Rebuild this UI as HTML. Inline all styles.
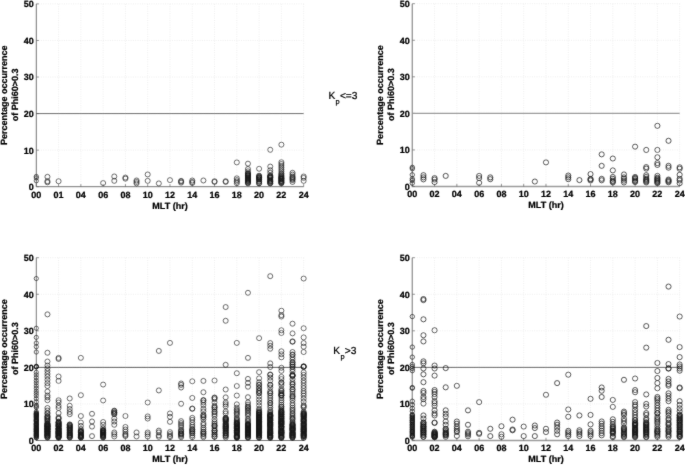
<!DOCTYPE html>
<html><head><meta charset="utf-8"><title>chart</title>
<style>html,body{margin:0;padding:0;background:#fff}body{width:685px;height:465px;overflow:hidden}</style>
</head><body>
<svg width="685" height="465" viewBox="0 0 685 465" style="display:block;font-family:'Liberation Sans',sans-serif;text-rendering:geometricPrecision;will-change:transform">
<defs><filter id="bl" x="0" y="0" width="685" height="465" filterUnits="userSpaceOnUse"><feConvolveMatrix order="3" kernelMatrix="0.015 0.065 0.015 0.065 0.68 0.065 0.015 0.065 0.015" divisor="1" edgeMode="duplicate" preserveAlpha="false"/></filter></defs>
<rect width="685" height="465" fill="#fff"/>
<g filter="url(#bl)">
<path d="M58.58 3.90V186.70M80.86 3.90V186.70M103.14 3.90V186.70M125.42 3.90V186.70M147.70 3.90V186.70M169.98 3.90V186.70M192.26 3.90V186.70M214.54 3.90V186.70M236.82 3.90V186.70M259.10 3.90V186.70M281.38 3.90V186.70M303.66 3.90V186.70M36.30 150.14H303.66M36.30 113.58H303.66M36.30 77.02H303.66M36.30 40.46H303.66M36.30 3.90H303.66" stroke="#e4e4e4" stroke-width="0.6" stroke-dasharray="1 1.3" fill="none"/>
<path d="M36.30 3.90V186.70H303.66" stroke="#505050" stroke-width="0.8" fill="none"/>
<path d="M36.30 186.70v-2.6M58.58 186.70v-2.6M80.86 186.70v-2.6M103.14 186.70v-2.6M125.42 186.70v-2.6M147.70 186.70v-2.6M169.98 186.70v-2.6M192.26 186.70v-2.6M214.54 186.70v-2.6M236.82 186.70v-2.6M259.10 186.70v-2.6M281.38 186.70v-2.6M303.66 186.70v-2.6M36.30 186.70h2.6M36.30 150.14h2.6M36.30 113.58h2.6M36.30 77.02h2.6M36.30 40.46h2.6M36.30 3.90h2.6" stroke="#666" stroke-width="0.7" fill="none"/>
<path d="M36.30 113.58H303.66" stroke="#585858" stroke-width="0.85" fill="none"/>
<text x="36.30" y="197.50" font-size="9.0" font-weight="bold" text-anchor="middle" fill="#000" stroke="#000" stroke-width="0.24">00</text>
<text x="58.58" y="197.50" font-size="9.0" font-weight="bold" text-anchor="middle" fill="#000" stroke="#000" stroke-width="0.24">01</text>
<text x="80.86" y="197.50" font-size="9.0" font-weight="bold" text-anchor="middle" fill="#000" stroke="#000" stroke-width="0.24">04</text>
<text x="103.14" y="197.50" font-size="9.0" font-weight="bold" text-anchor="middle" fill="#000" stroke="#000" stroke-width="0.24">06</text>
<text x="125.42" y="197.50" font-size="9.0" font-weight="bold" text-anchor="middle" fill="#000" stroke="#000" stroke-width="0.24">08</text>
<text x="147.70" y="197.50" font-size="9.0" font-weight="bold" text-anchor="middle" fill="#000" stroke="#000" stroke-width="0.24">10</text>
<text x="169.98" y="197.50" font-size="9.0" font-weight="bold" text-anchor="middle" fill="#000" stroke="#000" stroke-width="0.24">12</text>
<text x="192.26" y="197.50" font-size="9.0" font-weight="bold" text-anchor="middle" fill="#000" stroke="#000" stroke-width="0.24">14</text>
<text x="214.54" y="197.50" font-size="9.0" font-weight="bold" text-anchor="middle" fill="#000" stroke="#000" stroke-width="0.24">16</text>
<text x="236.82" y="197.50" font-size="9.0" font-weight="bold" text-anchor="middle" fill="#000" stroke="#000" stroke-width="0.24">18</text>
<text x="259.10" y="197.50" font-size="9.0" font-weight="bold" text-anchor="middle" fill="#000" stroke="#000" stroke-width="0.24">20</text>
<text x="281.38" y="197.50" font-size="9.0" font-weight="bold" text-anchor="middle" fill="#000" stroke="#000" stroke-width="0.24">22</text>
<text x="303.66" y="197.50" font-size="9.0" font-weight="bold" text-anchor="middle" fill="#000" stroke="#000" stroke-width="0.24">24</text>
<text x="33.70" y="190.15" font-size="9.0" font-weight="bold" text-anchor="end" fill="#000" stroke="#000" stroke-width="0.24">0</text>
<text x="33.70" y="153.59" font-size="9.0" font-weight="bold" text-anchor="end" fill="#000" stroke="#000" stroke-width="0.24">10</text>
<text x="33.70" y="117.03" font-size="9.0" font-weight="bold" text-anchor="end" fill="#000" stroke="#000" stroke-width="0.24">20</text>
<text x="33.70" y="80.47" font-size="9.0" font-weight="bold" text-anchor="end" fill="#000" stroke="#000" stroke-width="0.24">30</text>
<text x="33.70" y="43.91" font-size="9.0" font-weight="bold" text-anchor="end" fill="#000" stroke="#000" stroke-width="0.24">40</text>
<text x="33.70" y="7.35" font-size="9.0" font-weight="bold" text-anchor="end" fill="#000" stroke="#000" stroke-width="0.24">50</text>
<text x="169.98" y="208.50" font-size="9.0" font-weight="bold" text-anchor="middle" fill="#000" stroke="#000" stroke-width="0.24">MLT (hr)</text>
<text transform="translate(7.00 95.30) rotate(-90)" font-size="9.0" font-weight="bold" text-anchor="middle" fill="#000" stroke="#000" stroke-width="0.24">Percentage occurrence</text>
<text transform="translate(17.50 94.80) rotate(-90)" font-size="9.0" font-weight="bold" text-anchor="middle" fill="#000" stroke="#000" stroke-width="0.24">of Phi60&gt;0.3</text>
<g fill="none" stroke="#181818" stroke-width="0.64">
<circle cx="36.30" cy="180.85" r="2.1"/>
<circle cx="36.30" cy="177.93" r="2.1"/>
<circle cx="36.30" cy="176.46" r="2.1"/>
<circle cx="47.44" cy="182.31" r="2.5"/>
<circle cx="47.44" cy="181.22" r="2.5"/>
<circle cx="47.44" cy="176.83" r="2.5"/>
<circle cx="58.58" cy="181.22" r="2.5"/>
<circle cx="103.14" cy="183.04" r="2.5"/>
<circle cx="114.28" cy="180.85" r="2.5"/>
<circle cx="114.28" cy="176.46" r="2.5"/>
<circle cx="125.42" cy="178.66" r="2.5"/>
<circle cx="125.42" cy="177.56" r="2.5"/>
<circle cx="136.56" cy="183.41" r="2.5"/>
<circle cx="136.56" cy="181.95" r="2.5"/>
<circle cx="136.56" cy="180.48" r="2.5"/>
<circle cx="147.70" cy="180.85" r="2.5"/>
<circle cx="147.70" cy="174.45" r="2.5"/>
<circle cx="158.84" cy="183.41" r="2.5"/>
<circle cx="169.98" cy="180.12" r="2.5"/>
<circle cx="181.12" cy="182.68" r="2.5"/>
<circle cx="181.12" cy="181.58" r="2.5"/>
<circle cx="181.12" cy="180.85" r="2.5"/>
<circle cx="192.26" cy="183.04" r="2.5"/>
<circle cx="192.26" cy="181.95" r="2.5"/>
<circle cx="192.26" cy="180.48" r="2.5"/>
<circle cx="203.40" cy="180.48" r="2.5"/>
<circle cx="214.54" cy="181.95" r="2.5"/>
<circle cx="214.54" cy="181.22" r="2.5"/>
<circle cx="225.68" cy="181.95" r="2.5"/>
<circle cx="225.68" cy="181.22" r="2.5"/>
<circle cx="236.82" cy="183.23" r="2.5"/>
<circle cx="236.82" cy="181.58" r="2.5"/>
<circle cx="236.82" cy="180.12" r="2.5"/>
<circle cx="236.82" cy="178.29" r="2.5"/>
<circle cx="236.82" cy="162.39" r="2.5"/>
<circle cx="247.96" cy="163.67" r="2.5"/>
<circle cx="247.96" cy="168.97" r="2.5"/>
<circle cx="247.96" cy="171.34" r="2.5"/>
<circle cx="247.96" cy="173.36" r="2.5"/>
<circle cx="247.96" cy="175.18" r="2.5"/>
<circle cx="247.96" cy="177.01" r="2.5"/>
<circle cx="247.96" cy="179.02" r="2.5"/>
<circle cx="247.96" cy="180.85" r="2.5"/>
<circle cx="247.96" cy="182.68" r="2.5"/>
<circle cx="247.96" cy="183.41" r="2.5"/>
<circle cx="247.96" cy="182.57" r="2.5"/>
<circle cx="247.96" cy="181.73" r="2.5"/>
<circle cx="247.96" cy="181.00" r="2.5"/>
<circle cx="247.96" cy="180.19" r="2.5"/>
<circle cx="247.96" cy="179.61" r="2.5"/>
<circle cx="247.96" cy="178.66" r="2.5"/>
<circle cx="247.96" cy="178.07" r="2.5"/>
<circle cx="247.96" cy="177.16" r="2.5"/>
<circle cx="247.96" cy="176.21" r="2.5"/>
<circle cx="247.96" cy="175.48" r="2.5"/>
<circle cx="247.96" cy="174.89" r="2.5"/>
<circle cx="247.96" cy="174.01" r="2.5"/>
<circle cx="247.96" cy="173.39" r="2.5"/>
<circle cx="259.10" cy="168.79" r="2.5"/>
<circle cx="259.10" cy="175.73" r="2.5"/>
<circle cx="259.10" cy="177.56" r="2.5"/>
<circle cx="259.10" cy="179.39" r="2.5"/>
<circle cx="259.10" cy="181.40" r="2.5"/>
<circle cx="259.10" cy="183.23" r="2.5"/>
<circle cx="259.10" cy="183.41" r="2.5"/>
<circle cx="259.10" cy="181.80" r="2.5"/>
<circle cx="259.10" cy="179.79" r="2.5"/>
<circle cx="259.10" cy="178.99" r="2.5"/>
<circle cx="259.10" cy="178.22" r="2.5"/>
<circle cx="259.10" cy="177.56" r="2.5"/>
<circle cx="259.10" cy="176.72" r="2.5"/>
<circle cx="259.10" cy="176.13" r="2.5"/>
<circle cx="270.24" cy="149.77" r="2.5"/>
<circle cx="270.24" cy="166.59" r="2.5"/>
<circle cx="270.24" cy="170.25" r="2.5"/>
<circle cx="270.24" cy="172.81" r="2.5"/>
<circle cx="270.24" cy="175.73" r="2.5"/>
<circle cx="270.24" cy="177.56" r="2.5"/>
<circle cx="270.24" cy="179.39" r="2.5"/>
<circle cx="270.24" cy="181.40" r="2.5"/>
<circle cx="270.24" cy="183.23" r="2.5"/>
<circle cx="270.24" cy="183.41" r="2.5"/>
<circle cx="270.24" cy="182.53" r="2.5"/>
<circle cx="270.24" cy="181.73" r="2.5"/>
<circle cx="270.24" cy="180.89" r="2.5"/>
<circle cx="270.24" cy="180.23" r="2.5"/>
<circle cx="270.24" cy="178.29" r="2.5"/>
<circle cx="270.24" cy="177.67" r="2.5"/>
<circle cx="270.24" cy="176.90" r="2.5"/>
<circle cx="270.24" cy="176.39" r="2.5"/>
<circle cx="270.24" cy="175.95" r="2.5"/>
<circle cx="281.38" cy="144.66" r="2.5"/>
<circle cx="281.38" cy="162.20" r="2.5"/>
<circle cx="281.38" cy="164.03" r="2.5"/>
<circle cx="281.38" cy="165.86" r="2.5"/>
<circle cx="281.38" cy="167.69" r="2.5"/>
<circle cx="281.38" cy="169.52" r="2.5"/>
<circle cx="281.38" cy="171.34" r="2.5"/>
<circle cx="281.38" cy="173.17" r="2.5"/>
<circle cx="281.38" cy="175.18" r="2.5"/>
<circle cx="281.38" cy="177.01" r="2.5"/>
<circle cx="281.38" cy="179.02" r="2.5"/>
<circle cx="281.38" cy="180.85" r="2.5"/>
<circle cx="281.38" cy="182.68" r="2.5"/>
<circle cx="281.38" cy="183.41" r="2.5"/>
<circle cx="281.38" cy="182.64" r="2.5"/>
<circle cx="281.38" cy="181.98" r="2.5"/>
<circle cx="281.38" cy="181.29" r="2.5"/>
<circle cx="281.38" cy="180.63" r="2.5"/>
<circle cx="281.38" cy="179.61" r="2.5"/>
<circle cx="281.38" cy="178.95" r="2.5"/>
<circle cx="281.38" cy="178.51" r="2.5"/>
<circle cx="281.38" cy="178.00" r="2.5"/>
<circle cx="281.38" cy="177.12" r="2.5"/>
<circle cx="281.38" cy="176.17" r="2.5"/>
<circle cx="281.38" cy="174.20" r="2.5"/>
<circle cx="292.52" cy="172.81" r="2.5"/>
<circle cx="292.52" cy="174.64" r="2.5"/>
<circle cx="292.52" cy="176.46" r="2.5"/>
<circle cx="292.52" cy="178.29" r="2.5"/>
<circle cx="292.52" cy="180.12" r="2.5"/>
<circle cx="292.52" cy="181.95" r="2.5"/>
<circle cx="292.52" cy="179.21" r="2.5"/>
<circle cx="292.52" cy="177.38" r="2.5"/>
<circle cx="303.66" cy="180.85" r="2.5"/>
<circle cx="303.66" cy="177.93" r="2.5"/>
<circle cx="303.66" cy="176.46" r="2.5"/>
</g>
<path d="M434.58 3.70V186.50M456.86 3.70V186.50M479.14 3.70V186.50M501.42 3.70V186.50M523.70 3.70V186.50M545.98 3.70V186.50M568.26 3.70V186.50M590.54 3.70V186.50M612.82 3.70V186.50M635.10 3.70V186.50M657.38 3.70V186.50M679.66 3.70V186.50M412.30 149.94H679.66M412.30 113.38H679.66M412.30 76.82H679.66M412.30 40.26H679.66M412.30 3.70H679.66" stroke="#e4e4e4" stroke-width="0.6" stroke-dasharray="1 1.3" fill="none"/>
<path d="M412.30 3.70V186.50H679.66" stroke="#9c9c9c" stroke-width="1.4" fill="none"/>
<path d="M412.30 186.50v-2.6M434.58 186.50v-2.6M456.86 186.50v-2.6M479.14 186.50v-2.6M501.42 186.50v-2.6M523.70 186.50v-2.6M545.98 186.50v-2.6M568.26 186.50v-2.6M590.54 186.50v-2.6M612.82 186.50v-2.6M635.10 186.50v-2.6M657.38 186.50v-2.6M679.66 186.50v-2.6M412.30 186.50h2.6M412.30 149.94h2.6M412.30 113.38h2.6M412.30 76.82h2.6M412.30 40.26h2.6M412.30 3.70h2.6" stroke="#666" stroke-width="0.7" fill="none"/>
<path d="M412.30 113.38H679.66" stroke="#9c9c9c" stroke-width="1.35" fill="none"/>
<text x="412.30" y="197.30" font-size="9.0" font-weight="bold" text-anchor="middle" fill="#000" stroke="#000" stroke-width="0.24">00</text>
<text x="434.58" y="197.30" font-size="9.0" font-weight="bold" text-anchor="middle" fill="#000" stroke="#000" stroke-width="0.24">02</text>
<text x="456.86" y="197.30" font-size="9.0" font-weight="bold" text-anchor="middle" fill="#000" stroke="#000" stroke-width="0.24">04</text>
<text x="479.14" y="197.30" font-size="9.0" font-weight="bold" text-anchor="middle" fill="#000" stroke="#000" stroke-width="0.24">06</text>
<text x="501.42" y="197.30" font-size="9.0" font-weight="bold" text-anchor="middle" fill="#000" stroke="#000" stroke-width="0.24">08</text>
<text x="523.70" y="197.30" font-size="9.0" font-weight="bold" text-anchor="middle" fill="#000" stroke="#000" stroke-width="0.24">10</text>
<text x="545.98" y="197.30" font-size="9.0" font-weight="bold" text-anchor="middle" fill="#000" stroke="#000" stroke-width="0.24">12</text>
<text x="568.26" y="197.30" font-size="9.0" font-weight="bold" text-anchor="middle" fill="#000" stroke="#000" stroke-width="0.24">14</text>
<text x="590.54" y="197.30" font-size="9.0" font-weight="bold" text-anchor="middle" fill="#000" stroke="#000" stroke-width="0.24">16</text>
<text x="612.82" y="197.30" font-size="9.0" font-weight="bold" text-anchor="middle" fill="#000" stroke="#000" stroke-width="0.24">18</text>
<text x="635.10" y="197.30" font-size="9.0" font-weight="bold" text-anchor="middle" fill="#000" stroke="#000" stroke-width="0.24">20</text>
<text x="657.38" y="197.30" font-size="9.0" font-weight="bold" text-anchor="middle" fill="#000" stroke="#000" stroke-width="0.24">22</text>
<text x="679.66" y="197.30" font-size="9.0" font-weight="bold" text-anchor="middle" fill="#000" stroke="#000" stroke-width="0.24">24</text>
<text x="409.70" y="189.95" font-size="9.0" font-weight="bold" text-anchor="end" fill="#000" stroke="#000" stroke-width="0.24">0</text>
<text x="409.70" y="153.39" font-size="9.0" font-weight="bold" text-anchor="end" fill="#000" stroke="#000" stroke-width="0.24">10</text>
<text x="409.70" y="116.83" font-size="9.0" font-weight="bold" text-anchor="end" fill="#000" stroke="#000" stroke-width="0.24">20</text>
<text x="409.70" y="80.27" font-size="9.0" font-weight="bold" text-anchor="end" fill="#000" stroke="#000" stroke-width="0.24">30</text>
<text x="409.70" y="43.71" font-size="9.0" font-weight="bold" text-anchor="end" fill="#000" stroke="#000" stroke-width="0.24">40</text>
<text x="409.70" y="7.15" font-size="9.0" font-weight="bold" text-anchor="end" fill="#000" stroke="#000" stroke-width="0.24">50</text>
<text x="545.98" y="208.30" font-size="9.0" font-weight="bold" text-anchor="middle" fill="#000" stroke="#000" stroke-width="0.24">MLT (hr)</text>
<text transform="translate(383.00 95.10) rotate(-90)" font-size="9.0" font-weight="bold" text-anchor="middle" fill="#000" stroke="#000" stroke-width="0.24">Percentage occurrence</text>
<text transform="translate(393.50 94.60) rotate(-90)" font-size="9.0" font-weight="bold" text-anchor="middle" fill="#000" stroke="#000" stroke-width="0.24">of Phi60&gt;0.3</text>
<g fill="none" stroke="#181818" stroke-width="0.72">
<circle cx="412.30" cy="183.21" r="2.15"/>
<circle cx="412.30" cy="180.47" r="2.15"/>
<circle cx="412.30" cy="178.82" r="2.15"/>
<circle cx="412.30" cy="174.80" r="2.15"/>
<circle cx="412.30" cy="168.77" r="2.15"/>
<circle cx="412.30" cy="167.31" r="2.15"/>
<circle cx="423.44" cy="179.37" r="2.55"/>
<circle cx="423.44" cy="177.36" r="2.55"/>
<circle cx="423.44" cy="175.17" r="2.55"/>
<circle cx="434.58" cy="182.11" r="2.55"/>
<circle cx="434.58" cy="179.55" r="2.55"/>
<circle cx="434.58" cy="178.09" r="2.55"/>
<circle cx="445.72" cy="175.90" r="2.55"/>
<circle cx="479.14" cy="182.84" r="2.55"/>
<circle cx="479.14" cy="178.09" r="2.55"/>
<circle cx="479.14" cy="175.90" r="2.55"/>
<circle cx="490.28" cy="179.19" r="2.55"/>
<circle cx="490.28" cy="177.36" r="2.55"/>
<circle cx="534.84" cy="181.56" r="2.55"/>
<circle cx="545.98" cy="162.37" r="2.55"/>
<circle cx="568.26" cy="179.19" r="2.55"/>
<circle cx="568.26" cy="177.36" r="2.55"/>
<circle cx="568.26" cy="175.53" r="2.55"/>
<circle cx="579.40" cy="180.10" r="2.55"/>
<circle cx="590.54" cy="180.47" r="2.55"/>
<circle cx="590.54" cy="178.82" r="2.55"/>
<circle cx="590.54" cy="174.07" r="2.55"/>
<circle cx="590.54" cy="179.55" r="2.55"/>
<circle cx="601.68" cy="180.28" r="2.55"/>
<circle cx="601.68" cy="178.82" r="2.55"/>
<circle cx="601.68" cy="165.84" r="2.55"/>
<circle cx="601.68" cy="154.33" r="2.55"/>
<circle cx="612.82" cy="182.48" r="2.55"/>
<circle cx="612.82" cy="180.65" r="2.55"/>
<circle cx="612.82" cy="178.82" r="2.55"/>
<circle cx="612.82" cy="176.99" r="2.55"/>
<circle cx="612.82" cy="170.41" r="2.55"/>
<circle cx="612.82" cy="158.53" r="2.55"/>
<circle cx="612.82" cy="181.56" r="2.55"/>
<circle cx="623.96" cy="182.48" r="2.55"/>
<circle cx="623.96" cy="180.65" r="2.55"/>
<circle cx="623.96" cy="178.82" r="2.55"/>
<circle cx="623.96" cy="174.44" r="2.55"/>
<circle cx="623.96" cy="177.36" r="2.55"/>
<circle cx="635.10" cy="182.11" r="2.55"/>
<circle cx="635.10" cy="180.28" r="2.55"/>
<circle cx="635.10" cy="178.82" r="2.55"/>
<circle cx="635.10" cy="176.99" r="2.55"/>
<circle cx="635.10" cy="146.65" r="2.55"/>
<circle cx="635.10" cy="181.20" r="2.55"/>
<circle cx="635.10" cy="177.91" r="2.55"/>
<circle cx="646.24" cy="182.48" r="2.55"/>
<circle cx="646.24" cy="180.65" r="2.55"/>
<circle cx="646.24" cy="178.82" r="2.55"/>
<circle cx="646.24" cy="176.99" r="2.55"/>
<circle cx="646.24" cy="175.17" r="2.55"/>
<circle cx="646.24" cy="168.59" r="2.55"/>
<circle cx="646.24" cy="167.12" r="2.55"/>
<circle cx="646.24" cy="149.94" r="2.55"/>
<circle cx="646.24" cy="181.56" r="2.55"/>
<circle cx="646.24" cy="179.74" r="2.55"/>
<circle cx="657.38" cy="125.81" r="2.55"/>
<circle cx="657.38" cy="149.94" r="2.55"/>
<circle cx="657.38" cy="157.25" r="2.55"/>
<circle cx="657.38" cy="163.10" r="2.55"/>
<circle cx="657.38" cy="164.93" r="2.55"/>
<circle cx="657.38" cy="175.90" r="2.55"/>
<circle cx="657.38" cy="177.73" r="2.55"/>
<circle cx="657.38" cy="179.55" r="2.55"/>
<circle cx="657.38" cy="181.38" r="2.55"/>
<circle cx="657.38" cy="183.21" r="2.55"/>
<circle cx="657.38" cy="182.30" r="2.55"/>
<circle cx="657.38" cy="180.47" r="2.55"/>
<circle cx="657.38" cy="178.64" r="2.55"/>
<circle cx="668.52" cy="140.80" r="2.55"/>
<circle cx="668.52" cy="165.84" r="2.55"/>
<circle cx="668.52" cy="167.67" r="2.55"/>
<circle cx="668.52" cy="179.55" r="2.55"/>
<circle cx="668.52" cy="181.38" r="2.55"/>
<circle cx="668.52" cy="180.47" r="2.55"/>
<circle cx="668.52" cy="182.30" r="2.55"/>
<circle cx="679.66" cy="183.21" r="2.55"/>
<circle cx="679.66" cy="180.47" r="2.55"/>
<circle cx="679.66" cy="178.82" r="2.55"/>
<circle cx="679.66" cy="174.80" r="2.55"/>
<circle cx="679.66" cy="168.77" r="2.55"/>
<circle cx="679.66" cy="167.31" r="2.55"/>
</g>
<path d="M58.58 257.70V440.50M80.86 257.70V440.50M103.14 257.70V440.50M125.42 257.70V440.50M147.70 257.70V440.50M169.98 257.70V440.50M192.26 257.70V440.50M214.54 257.70V440.50M236.82 257.70V440.50M259.10 257.70V440.50M281.38 257.70V440.50M303.66 257.70V440.50M36.30 403.94H303.66M36.30 367.38H303.66M36.30 330.82H303.66M36.30 294.26H303.66M36.30 257.70H303.66" stroke="#e4e4e4" stroke-width="0.6" stroke-dasharray="1 1.3" fill="none"/>
<path d="M36.30 257.70V440.50H303.66" stroke="#585858" stroke-width="0.8" fill="none"/>
<path d="M36.30 440.50v-2.6M58.58 440.50v-2.6M80.86 440.50v-2.6M103.14 440.50v-2.6M125.42 440.50v-2.6M147.70 440.50v-2.6M169.98 440.50v-2.6M192.26 440.50v-2.6M214.54 440.50v-2.6M236.82 440.50v-2.6M259.10 440.50v-2.6M281.38 440.50v-2.6M303.66 440.50v-2.6M36.30 440.50h2.6M36.30 403.94h2.6M36.30 367.38h2.6M36.30 330.82h2.6M36.30 294.26h2.6M36.30 257.70h2.6" stroke="#666" stroke-width="0.7" fill="none"/>
<path d="M36.30 367.38H303.66" stroke="#444" stroke-width="0.85" fill="none"/>
<text x="36.30" y="451.30" font-size="9.0" font-weight="bold" text-anchor="middle" fill="#000" stroke="#000" stroke-width="0.24">00</text>
<text x="58.58" y="451.30" font-size="9.0" font-weight="bold" text-anchor="middle" fill="#000" stroke="#000" stroke-width="0.24">02</text>
<text x="80.86" y="451.30" font-size="9.0" font-weight="bold" text-anchor="middle" fill="#000" stroke="#000" stroke-width="0.24">04</text>
<text x="103.14" y="451.30" font-size="9.0" font-weight="bold" text-anchor="middle" fill="#000" stroke="#000" stroke-width="0.24">06</text>
<text x="125.42" y="451.30" font-size="9.0" font-weight="bold" text-anchor="middle" fill="#000" stroke="#000" stroke-width="0.24">08</text>
<text x="147.70" y="451.30" font-size="9.0" font-weight="bold" text-anchor="middle" fill="#000" stroke="#000" stroke-width="0.24">10</text>
<text x="169.98" y="451.30" font-size="9.0" font-weight="bold" text-anchor="middle" fill="#000" stroke="#000" stroke-width="0.24">12</text>
<text x="192.26" y="451.30" font-size="9.0" font-weight="bold" text-anchor="middle" fill="#000" stroke="#000" stroke-width="0.24">14</text>
<text x="214.54" y="451.30" font-size="9.0" font-weight="bold" text-anchor="middle" fill="#000" stroke="#000" stroke-width="0.24">16</text>
<text x="236.82" y="451.30" font-size="9.0" font-weight="bold" text-anchor="middle" fill="#000" stroke="#000" stroke-width="0.24">18</text>
<text x="259.10" y="451.30" font-size="9.0" font-weight="bold" text-anchor="middle" fill="#000" stroke="#000" stroke-width="0.24">20</text>
<text x="281.38" y="451.30" font-size="9.0" font-weight="bold" text-anchor="middle" fill="#000" stroke="#000" stroke-width="0.24">22</text>
<text x="303.66" y="451.30" font-size="9.0" font-weight="bold" text-anchor="middle" fill="#000" stroke="#000" stroke-width="0.24">24</text>
<text x="33.70" y="443.95" font-size="9.0" font-weight="bold" text-anchor="end" fill="#000" stroke="#000" stroke-width="0.24">0</text>
<text x="33.70" y="407.39" font-size="9.0" font-weight="bold" text-anchor="end" fill="#000" stroke="#000" stroke-width="0.24">10</text>
<text x="33.70" y="370.83" font-size="9.0" font-weight="bold" text-anchor="end" fill="#000" stroke="#000" stroke-width="0.24">20</text>
<text x="33.70" y="334.27" font-size="9.0" font-weight="bold" text-anchor="end" fill="#000" stroke="#000" stroke-width="0.24">30</text>
<text x="33.70" y="297.71" font-size="9.0" font-weight="bold" text-anchor="end" fill="#000" stroke="#000" stroke-width="0.24">40</text>
<text x="33.70" y="261.15" font-size="9.0" font-weight="bold" text-anchor="end" fill="#000" stroke="#000" stroke-width="0.24">50</text>
<text x="169.98" y="462.30" font-size="9.0" font-weight="bold" text-anchor="middle" fill="#000" stroke="#000" stroke-width="0.24">MLT (hr)</text>
<text transform="translate(7.00 349.10) rotate(-90)" font-size="9.0" font-weight="bold" text-anchor="middle" fill="#000" stroke="#000" stroke-width="0.24">Percentage occurrence</text>
<text transform="translate(17.50 348.60) rotate(-90)" font-size="9.0" font-weight="bold" text-anchor="middle" fill="#000" stroke="#000" stroke-width="0.24">of Phi60&gt;0.3</text>
<g fill="none" stroke="#181818" stroke-width="0.64">
<circle cx="36.30" cy="278.54" r="2.1"/>
<circle cx="36.30" cy="328.26" r="2.1"/>
<circle cx="36.30" cy="337.40" r="2.1"/>
<circle cx="36.30" cy="343.07" r="2.1"/>
<circle cx="36.30" cy="346.72" r="2.1"/>
<circle cx="36.30" cy="352.02" r="2.1"/>
<circle cx="36.30" cy="372.32" r="2.1"/>
<circle cx="36.30" cy="374.87" r="2.1"/>
<circle cx="36.30" cy="377.62" r="2.1"/>
<circle cx="36.30" cy="380.54" r="2.1"/>
<circle cx="36.30" cy="382.92" r="2.1"/>
<circle cx="36.30" cy="385.84" r="2.1"/>
<circle cx="36.30" cy="388.22" r="2.1"/>
<circle cx="36.30" cy="391.14" r="2.1"/>
<circle cx="36.30" cy="393.34" r="2.1"/>
<circle cx="36.30" cy="395.71" r="2.1"/>
<circle cx="36.30" cy="398.64" r="2.1"/>
<circle cx="36.30" cy="401.75" r="2.1"/>
<circle cx="36.30" cy="367.01" r="2.1"/>
<circle cx="36.30" cy="366.61" r="2.1"/>
<circle cx="36.30" cy="366.65" r="2.1"/>
<circle cx="36.30" cy="366.25" r="2.1"/>
<circle cx="36.30" cy="412.71" r="2.1"/>
<circle cx="36.30" cy="411.65" r="2.1"/>
<circle cx="36.30" cy="407.56" r="2.1"/>
<circle cx="36.30" cy="406.39" r="2.1"/>
<circle cx="36.30" cy="405.33" r="2.1"/>
<circle cx="36.30" cy="437.94" r="2.1"/>
<circle cx="36.30" cy="437.58" r="2.1"/>
<circle cx="36.30" cy="436.55" r="2.1"/>
<circle cx="36.30" cy="436.11" r="2.1"/>
<circle cx="36.30" cy="435.86" r="2.1"/>
<circle cx="36.30" cy="435.53" r="2.1"/>
<circle cx="36.30" cy="435.05" r="2.1"/>
<circle cx="36.30" cy="434.76" r="2.1"/>
<circle cx="36.30" cy="434.36" r="2.1"/>
<circle cx="36.30" cy="433.85" r="2.1"/>
<circle cx="36.30" cy="433.63" r="2.1"/>
<circle cx="36.30" cy="433.08" r="2.1"/>
<circle cx="36.30" cy="432.20" r="2.1"/>
<circle cx="36.30" cy="431.91" r="2.1"/>
<circle cx="36.30" cy="431.65" r="2.1"/>
<circle cx="36.30" cy="431.32" r="2.1"/>
<circle cx="36.30" cy="430.85" r="2.1"/>
<circle cx="36.30" cy="430.45" r="2.1"/>
<circle cx="36.30" cy="430.04" r="2.1"/>
<circle cx="36.30" cy="429.61" r="2.1"/>
<circle cx="36.30" cy="429.28" r="2.1"/>
<circle cx="36.30" cy="429.06" r="2.1"/>
<circle cx="36.30" cy="428.69" r="2.1"/>
<circle cx="36.30" cy="428.29" r="2.1"/>
<circle cx="36.30" cy="427.81" r="2.1"/>
<circle cx="36.30" cy="427.30" r="2.1"/>
<circle cx="36.30" cy="426.90" r="2.1"/>
<circle cx="36.30" cy="426.50" r="2.1"/>
<circle cx="36.30" cy="425.73" r="2.1"/>
<circle cx="36.30" cy="425.40" r="2.1"/>
<circle cx="36.30" cy="425.00" r="2.1"/>
<circle cx="36.30" cy="424.60" r="2.1"/>
<circle cx="36.30" cy="424.16" r="2.1"/>
<circle cx="36.30" cy="423.68" r="2.1"/>
<circle cx="36.30" cy="423.46" r="2.1"/>
<circle cx="36.30" cy="422.95" r="2.1"/>
<circle cx="36.30" cy="421.89" r="2.1"/>
<circle cx="36.30" cy="421.45" r="2.1"/>
<circle cx="36.30" cy="420.98" r="2.1"/>
<circle cx="36.30" cy="420.50" r="2.1"/>
<circle cx="36.30" cy="420.32" r="2.1"/>
<circle cx="36.30" cy="419.88" r="2.1"/>
<circle cx="36.30" cy="419.11" r="2.1"/>
<circle cx="36.30" cy="418.89" r="2.1"/>
<circle cx="36.30" cy="417.94" r="2.1"/>
<circle cx="36.30" cy="417.58" r="2.1"/>
<circle cx="36.30" cy="416.74" r="2.1"/>
<circle cx="36.30" cy="416.52" r="2.1"/>
<circle cx="36.30" cy="416.00" r="2.1"/>
<circle cx="36.30" cy="415.64" r="2.1"/>
<circle cx="36.30" cy="415.20" r="2.1"/>
<circle cx="36.30" cy="414.73" r="2.1"/>
<circle cx="36.30" cy="414.40" r="2.1"/>
<circle cx="36.30" cy="414.07" r="2.1"/>
<circle cx="36.30" cy="413.63" r="2.1"/>
<circle cx="36.30" cy="413.41" r="2.1"/>
<circle cx="47.44" cy="314.37" r="2.5"/>
<circle cx="47.44" cy="352.76" r="2.5"/>
<circle cx="47.44" cy="361.53" r="2.5"/>
<circle cx="47.44" cy="365.55" r="2.5"/>
<circle cx="47.44" cy="368.29" r="2.5"/>
<circle cx="47.44" cy="371.04" r="2.5"/>
<circle cx="47.44" cy="373.96" r="2.5"/>
<circle cx="47.44" cy="376.70" r="2.5"/>
<circle cx="47.44" cy="379.81" r="2.5"/>
<circle cx="47.44" cy="383.10" r="2.5"/>
<circle cx="47.44" cy="386.03" r="2.5"/>
<circle cx="47.44" cy="391.51" r="2.5"/>
<circle cx="47.44" cy="395.53" r="2.5"/>
<circle cx="47.44" cy="397.36" r="2.5"/>
<circle cx="47.44" cy="400.28" r="2.5"/>
<circle cx="47.44" cy="407.96" r="2.5"/>
<circle cx="47.44" cy="410.52" r="2.5"/>
<circle cx="47.44" cy="436.84" r="2.5"/>
<circle cx="47.44" cy="436.15" r="2.5"/>
<circle cx="47.44" cy="435.31" r="2.5"/>
<circle cx="47.44" cy="434.69" r="2.5"/>
<circle cx="47.44" cy="434.10" r="2.5"/>
<circle cx="47.44" cy="433.01" r="2.5"/>
<circle cx="47.44" cy="431.80" r="2.5"/>
<circle cx="47.44" cy="431.03" r="2.5"/>
<circle cx="47.44" cy="429.93" r="2.5"/>
<circle cx="47.44" cy="429.17" r="2.5"/>
<circle cx="47.44" cy="428.65" r="2.5"/>
<circle cx="47.44" cy="427.41" r="2.5"/>
<circle cx="47.44" cy="426.79" r="2.5"/>
<circle cx="47.44" cy="426.13" r="2.5"/>
<circle cx="47.44" cy="424.93" r="2.5"/>
<circle cx="47.44" cy="423.83" r="2.5"/>
<circle cx="47.44" cy="422.99" r="2.5"/>
<circle cx="47.44" cy="421.71" r="2.5"/>
<circle cx="47.44" cy="420.72" r="2.5"/>
<circle cx="47.44" cy="419.59" r="2.5"/>
<circle cx="47.44" cy="418.97" r="2.5"/>
<circle cx="47.44" cy="418.02" r="2.5"/>
<circle cx="47.44" cy="417.21" r="2.5"/>
<circle cx="47.44" cy="416.52" r="2.5"/>
<circle cx="47.44" cy="416.00" r="2.5"/>
<circle cx="47.44" cy="413.77" r="2.5"/>
<circle cx="47.44" cy="412.90" r="2.5"/>
<circle cx="47.44" cy="437.58" r="2.5"/>
<circle cx="47.44" cy="437.25" r="2.5"/>
<circle cx="47.44" cy="435.89" r="2.5"/>
<circle cx="47.44" cy="435.45" r="2.5"/>
<circle cx="47.44" cy="434.07" r="2.5"/>
<circle cx="47.44" cy="433.59" r="2.5"/>
<circle cx="47.44" cy="433.04" r="2.5"/>
<circle cx="47.44" cy="432.42" r="2.5"/>
<circle cx="47.44" cy="431.91" r="2.5"/>
<circle cx="47.44" cy="431.62" r="2.5"/>
<circle cx="47.44" cy="431.10" r="2.5"/>
<circle cx="47.44" cy="430.45" r="2.5"/>
<circle cx="47.44" cy="429.71" r="2.5"/>
<circle cx="47.44" cy="429.31" r="2.5"/>
<circle cx="47.44" cy="428.91" r="2.5"/>
<circle cx="47.44" cy="428.33" r="2.5"/>
<circle cx="47.44" cy="427.96" r="2.5"/>
<circle cx="47.44" cy="427.34" r="2.5"/>
<circle cx="47.44" cy="426.68" r="2.5"/>
<circle cx="47.44" cy="426.39" r="2.5"/>
<circle cx="47.44" cy="426.02" r="2.5"/>
<circle cx="47.44" cy="425.73" r="2.5"/>
<circle cx="47.44" cy="425.29" r="2.5"/>
<circle cx="47.44" cy="424.96" r="2.5"/>
<circle cx="47.44" cy="424.27" r="2.5"/>
<circle cx="47.44" cy="423.79" r="2.5"/>
<circle cx="58.58" cy="357.87" r="2.5"/>
<circle cx="58.58" cy="358.97" r="2.5"/>
<circle cx="58.58" cy="376.52" r="2.5"/>
<circle cx="58.58" cy="380.91" r="2.5"/>
<circle cx="58.58" cy="400.28" r="2.5"/>
<circle cx="58.58" cy="402.48" r="2.5"/>
<circle cx="58.58" cy="405.77" r="2.5"/>
<circle cx="58.58" cy="407.96" r="2.5"/>
<circle cx="58.58" cy="413.08" r="2.5"/>
<circle cx="58.58" cy="437.58" r="2.5"/>
<circle cx="58.58" cy="436.81" r="2.5"/>
<circle cx="58.58" cy="436.15" r="2.5"/>
<circle cx="58.58" cy="435.13" r="2.5"/>
<circle cx="58.58" cy="434.18" r="2.5"/>
<circle cx="58.58" cy="433.26" r="2.5"/>
<circle cx="58.58" cy="432.57" r="2.5"/>
<circle cx="58.58" cy="431.80" r="2.5"/>
<circle cx="58.58" cy="430.74" r="2.5"/>
<circle cx="58.58" cy="429.93" r="2.5"/>
<circle cx="58.58" cy="428.98" r="2.5"/>
<circle cx="58.58" cy="428.25" r="2.5"/>
<circle cx="58.58" cy="425.91" r="2.5"/>
<circle cx="58.58" cy="424.71" r="2.5"/>
<circle cx="58.58" cy="422.59" r="2.5"/>
<circle cx="58.58" cy="421.45" r="2.5"/>
<circle cx="58.58" cy="418.93" r="2.5"/>
<circle cx="58.58" cy="418.42" r="2.5"/>
<circle cx="58.58" cy="417.32" r="2.5"/>
<circle cx="58.58" cy="437.58" r="2.5"/>
<circle cx="58.58" cy="437.06" r="2.5"/>
<circle cx="58.58" cy="436.48" r="2.5"/>
<circle cx="58.58" cy="435.97" r="2.5"/>
<circle cx="58.58" cy="435.53" r="2.5"/>
<circle cx="58.58" cy="434.80" r="2.5"/>
<circle cx="58.58" cy="434.36" r="2.5"/>
<circle cx="58.58" cy="433.77" r="2.5"/>
<circle cx="58.58" cy="433.26" r="2.5"/>
<circle cx="58.58" cy="432.93" r="2.5"/>
<circle cx="58.58" cy="432.42" r="2.5"/>
<circle cx="58.58" cy="431.76" r="2.5"/>
<circle cx="58.58" cy="431.40" r="2.5"/>
<circle cx="58.58" cy="431.07" r="2.5"/>
<circle cx="58.58" cy="429.90" r="2.5"/>
<circle cx="58.58" cy="429.61" r="2.5"/>
<circle cx="58.58" cy="428.98" r="2.5"/>
<circle cx="58.58" cy="428.51" r="2.5"/>
<circle cx="58.58" cy="428.11" r="2.5"/>
<circle cx="58.58" cy="426.90" r="2.5"/>
<circle cx="58.58" cy="426.50" r="2.5"/>
<circle cx="58.58" cy="425.95" r="2.5"/>
<circle cx="58.58" cy="425.47" r="2.5"/>
<circle cx="58.58" cy="424.85" r="2.5"/>
<circle cx="58.58" cy="424.12" r="2.5"/>
<circle cx="58.58" cy="423.39" r="2.5"/>
<circle cx="58.58" cy="422.84" r="2.5"/>
<circle cx="58.58" cy="422.37" r="2.5"/>
<circle cx="69.72" cy="398.46" r="2.5"/>
<circle cx="69.72" cy="405.77" r="2.5"/>
<circle cx="69.72" cy="409.06" r="2.5"/>
<circle cx="69.72" cy="411.98" r="2.5"/>
<circle cx="69.72" cy="414.18" r="2.5"/>
<circle cx="69.72" cy="437.58" r="2.5"/>
<circle cx="69.72" cy="437.25" r="2.5"/>
<circle cx="69.72" cy="436.81" r="2.5"/>
<circle cx="69.72" cy="436.33" r="2.5"/>
<circle cx="69.72" cy="435.75" r="2.5"/>
<circle cx="69.72" cy="435.35" r="2.5"/>
<circle cx="69.72" cy="434.98" r="2.5"/>
<circle cx="69.72" cy="434.54" r="2.5"/>
<circle cx="69.72" cy="433.88" r="2.5"/>
<circle cx="69.72" cy="433.26" r="2.5"/>
<circle cx="69.72" cy="432.93" r="2.5"/>
<circle cx="69.72" cy="432.57" r="2.5"/>
<circle cx="69.72" cy="431.43" r="2.5"/>
<circle cx="69.72" cy="430.81" r="2.5"/>
<circle cx="69.72" cy="430.26" r="2.5"/>
<circle cx="69.72" cy="429.93" r="2.5"/>
<circle cx="69.72" cy="429.28" r="2.5"/>
<circle cx="69.72" cy="428.54" r="2.5"/>
<circle cx="69.72" cy="427.89" r="2.5"/>
<circle cx="69.72" cy="427.59" r="2.5"/>
<circle cx="69.72" cy="427.30" r="2.5"/>
<circle cx="69.72" cy="426.53" r="2.5"/>
<circle cx="69.72" cy="425.95" r="2.5"/>
<circle cx="69.72" cy="425.36" r="2.5"/>
<circle cx="69.72" cy="424.78" r="2.5"/>
<circle cx="69.72" cy="424.45" r="2.5"/>
<circle cx="80.86" cy="357.87" r="2.5"/>
<circle cx="80.86" cy="395.17" r="2.5"/>
<circle cx="80.86" cy="416.00" r="2.5"/>
<circle cx="80.86" cy="422.59" r="2.5"/>
<circle cx="80.86" cy="425.88" r="2.5"/>
<circle cx="80.86" cy="428.98" r="2.5"/>
<circle cx="80.86" cy="431.73" r="2.5"/>
<circle cx="80.86" cy="433.92" r="2.5"/>
<circle cx="80.86" cy="436.11" r="2.5"/>
<circle cx="80.86" cy="437.58" r="2.5"/>
<circle cx="80.86" cy="435.02" r="2.5"/>
<circle cx="80.86" cy="437.58" r="2.5"/>
<circle cx="80.86" cy="437.14" r="2.5"/>
<circle cx="80.86" cy="436.55" r="2.5"/>
<circle cx="80.86" cy="436.04" r="2.5"/>
<circle cx="80.86" cy="435.56" r="2.5"/>
<circle cx="80.86" cy="434.91" r="2.5"/>
<circle cx="80.86" cy="434.54" r="2.5"/>
<circle cx="80.86" cy="432.82" r="2.5"/>
<circle cx="80.86" cy="432.27" r="2.5"/>
<circle cx="80.86" cy="431.87" r="2.5"/>
<circle cx="80.86" cy="431.10" r="2.5"/>
<circle cx="80.86" cy="430.59" r="2.5"/>
<circle cx="92.00" cy="413.81" r="2.5"/>
<circle cx="92.00" cy="421.49" r="2.5"/>
<circle cx="92.00" cy="426.61" r="2.5"/>
<circle cx="92.00" cy="436.11" r="2.5"/>
<circle cx="103.14" cy="384.56" r="2.5"/>
<circle cx="103.14" cy="400.47" r="2.5"/>
<circle cx="103.14" cy="422.04" r="2.5"/>
<circle cx="103.14" cy="424.78" r="2.5"/>
<circle cx="103.14" cy="428.07" r="2.5"/>
<circle cx="103.14" cy="430.63" r="2.5"/>
<circle cx="103.14" cy="432.46" r="2.5"/>
<circle cx="103.14" cy="434.65" r="2.5"/>
<circle cx="103.14" cy="436.84" r="2.5"/>
<circle cx="103.14" cy="433.55" r="2.5"/>
<circle cx="103.14" cy="435.75" r="2.5"/>
<circle cx="103.14" cy="437.58" r="2.5"/>
<circle cx="103.14" cy="436.84" r="2.5"/>
<circle cx="103.14" cy="435.93" r="2.5"/>
<circle cx="103.14" cy="435.16" r="2.5"/>
<circle cx="103.14" cy="434.76" r="2.5"/>
<circle cx="103.14" cy="434.03" r="2.5"/>
<circle cx="103.14" cy="433.30" r="2.5"/>
<circle cx="103.14" cy="432.53" r="2.5"/>
<circle cx="103.14" cy="432.02" r="2.5"/>
<circle cx="103.14" cy="431.51" r="2.5"/>
<circle cx="103.14" cy="430.99" r="2.5"/>
<circle cx="103.14" cy="430.56" r="2.5"/>
<circle cx="103.14" cy="429.82" r="2.5"/>
<circle cx="114.28" cy="418.56" r="2.5"/>
<circle cx="114.28" cy="421.49" r="2.5"/>
<circle cx="114.28" cy="424.78" r="2.5"/>
<circle cx="114.28" cy="432.46" r="2.5"/>
<circle cx="114.28" cy="434.28" r="2.5"/>
<circle cx="114.28" cy="436.48" r="2.5"/>
<circle cx="114.28" cy="411.07" r="2.5"/>
<circle cx="114.28" cy="410.67" r="2.5"/>
<circle cx="114.28" cy="412.71" r="2.5"/>
<circle cx="114.28" cy="412.31" r="2.5"/>
<circle cx="114.28" cy="414.18" r="2.5"/>
<circle cx="114.28" cy="413.77" r="2.5"/>
<circle cx="125.42" cy="416.00" r="2.5"/>
<circle cx="125.42" cy="426.97" r="2.5"/>
<circle cx="125.42" cy="429.53" r="2.5"/>
<circle cx="125.42" cy="431.73" r="2.5"/>
<circle cx="125.42" cy="433.92" r="2.5"/>
<circle cx="125.42" cy="436.11" r="2.5"/>
<circle cx="125.42" cy="435.02" r="2.5"/>
<circle cx="136.56" cy="432.46" r="2.5"/>
<circle cx="136.56" cy="436.48" r="2.5"/>
<circle cx="147.70" cy="402.48" r="2.5"/>
<circle cx="147.70" cy="416.37" r="2.5"/>
<circle cx="147.70" cy="418.56" r="2.5"/>
<circle cx="147.70" cy="432.46" r="2.5"/>
<circle cx="147.70" cy="434.28" r="2.5"/>
<circle cx="147.70" cy="436.48" r="2.5"/>
<circle cx="158.84" cy="350.93" r="2.5"/>
<circle cx="158.84" cy="390.41" r="2.5"/>
<circle cx="158.84" cy="430.63" r="2.5"/>
<circle cx="158.84" cy="432.46" r="2.5"/>
<circle cx="158.84" cy="435.38" r="2.5"/>
<circle cx="158.84" cy="436.84" r="2.5"/>
<circle cx="169.98" cy="342.88" r="2.5"/>
<circle cx="169.98" cy="413.45" r="2.5"/>
<circle cx="169.98" cy="416.74" r="2.5"/>
<circle cx="169.98" cy="421.85" r="2.5"/>
<circle cx="169.98" cy="432.09" r="2.5"/>
<circle cx="169.98" cy="434.10" r="2.5"/>
<circle cx="169.98" cy="435.93" r="2.5"/>
<circle cx="169.98" cy="437.21" r="2.5"/>
<circle cx="181.12" cy="383.47" r="2.5"/>
<circle cx="181.12" cy="384.93" r="2.5"/>
<circle cx="181.12" cy="387.49" r="2.5"/>
<circle cx="181.12" cy="403.76" r="2.5"/>
<circle cx="181.12" cy="421.12" r="2.5"/>
<circle cx="181.12" cy="423.13" r="2.5"/>
<circle cx="181.12" cy="424.96" r="2.5"/>
<circle cx="181.12" cy="426.97" r="2.5"/>
<circle cx="181.12" cy="429.53" r="2.5"/>
<circle cx="181.12" cy="435.93" r="2.5"/>
<circle cx="181.12" cy="437.21" r="2.5"/>
<circle cx="181.12" cy="431.36" r="2.5"/>
<circle cx="181.12" cy="430.96" r="2.5"/>
<circle cx="181.12" cy="433.37" r="2.5"/>
<circle cx="181.12" cy="432.97" r="2.5"/>
<circle cx="181.12" cy="434.65" r="2.5"/>
<circle cx="181.12" cy="434.25" r="2.5"/>
<circle cx="192.26" cy="381.27" r="2.5"/>
<circle cx="192.26" cy="397.91" r="2.5"/>
<circle cx="192.26" cy="417.83" r="2.5"/>
<circle cx="192.26" cy="419.84" r="2.5"/>
<circle cx="192.26" cy="422.40" r="2.5"/>
<circle cx="192.26" cy="424.96" r="2.5"/>
<circle cx="192.26" cy="426.97" r="2.5"/>
<circle cx="192.26" cy="435.38" r="2.5"/>
<circle cx="192.26" cy="437.21" r="2.5"/>
<circle cx="192.26" cy="408.88" r="2.5"/>
<circle cx="192.26" cy="408.47" r="2.5"/>
<circle cx="192.26" cy="429.53" r="2.5"/>
<circle cx="192.26" cy="429.13" r="2.5"/>
<circle cx="192.26" cy="431.36" r="2.5"/>
<circle cx="192.26" cy="430.96" r="2.5"/>
<circle cx="192.26" cy="433.37" r="2.5"/>
<circle cx="192.26" cy="432.97" r="2.5"/>
<circle cx="203.40" cy="380.91" r="2.5"/>
<circle cx="203.40" cy="392.24" r="2.5"/>
<circle cx="203.40" cy="402.48" r="2.5"/>
<circle cx="203.40" cy="405.04" r="2.5"/>
<circle cx="203.40" cy="408.88" r="2.5"/>
<circle cx="203.40" cy="411.43" r="2.5"/>
<circle cx="203.40" cy="419.30" r="2.5"/>
<circle cx="203.40" cy="423.13" r="2.5"/>
<circle cx="203.40" cy="424.96" r="2.5"/>
<circle cx="203.40" cy="427.70" r="2.5"/>
<circle cx="203.40" cy="429.53" r="2.5"/>
<circle cx="203.40" cy="435.93" r="2.5"/>
<circle cx="203.40" cy="437.21" r="2.5"/>
<circle cx="203.40" cy="400.47" r="2.5"/>
<circle cx="203.40" cy="400.06" r="2.5"/>
<circle cx="203.40" cy="415.27" r="2.5"/>
<circle cx="203.40" cy="414.87" r="2.5"/>
<circle cx="203.40" cy="417.28" r="2.5"/>
<circle cx="203.40" cy="416.88" r="2.5"/>
<circle cx="203.40" cy="432.09" r="2.5"/>
<circle cx="203.40" cy="431.69" r="2.5"/>
<circle cx="203.40" cy="434.10" r="2.5"/>
<circle cx="203.40" cy="433.70" r="2.5"/>
<circle cx="214.54" cy="380.54" r="2.5"/>
<circle cx="214.54" cy="399.19" r="2.5"/>
<circle cx="214.54" cy="402.48" r="2.5"/>
<circle cx="214.54" cy="405.77" r="2.5"/>
<circle cx="214.54" cy="409.42" r="2.5"/>
<circle cx="214.54" cy="414.18" r="2.5"/>
<circle cx="214.54" cy="416.00" r="2.5"/>
<circle cx="214.54" cy="419.30" r="2.5"/>
<circle cx="214.54" cy="421.85" r="2.5"/>
<circle cx="214.54" cy="423.68" r="2.5"/>
<circle cx="214.54" cy="428.25" r="2.5"/>
<circle cx="214.54" cy="432.82" r="2.5"/>
<circle cx="214.54" cy="434.65" r="2.5"/>
<circle cx="214.54" cy="436.66" r="2.5"/>
<circle cx="214.54" cy="397.91" r="2.5"/>
<circle cx="214.54" cy="397.51" r="2.5"/>
<circle cx="214.54" cy="407.60" r="2.5"/>
<circle cx="214.54" cy="407.19" r="2.5"/>
<circle cx="214.54" cy="412.17" r="2.5"/>
<circle cx="214.54" cy="411.76" r="2.5"/>
<circle cx="214.54" cy="426.24" r="2.5"/>
<circle cx="214.54" cy="425.84" r="2.5"/>
<circle cx="214.54" cy="430.81" r="2.5"/>
<circle cx="214.54" cy="430.41" r="2.5"/>
<circle cx="214.54" cy="436.84" r="2.5"/>
<circle cx="214.54" cy="434.43" r="2.5"/>
<circle cx="214.54" cy="431.07" r="2.5"/>
<circle cx="214.54" cy="425.25" r="2.5"/>
<circle cx="225.68" cy="307.06" r="2.5"/>
<circle cx="225.68" cy="320.77" r="2.5"/>
<circle cx="225.68" cy="364.82" r="2.5"/>
<circle cx="225.68" cy="389.50" r="2.5"/>
<circle cx="225.68" cy="397.36" r="2.5"/>
<circle cx="225.68" cy="402.48" r="2.5"/>
<circle cx="225.68" cy="404.31" r="2.5"/>
<circle cx="225.68" cy="406.32" r="2.5"/>
<circle cx="225.68" cy="411.43" r="2.5"/>
<circle cx="225.68" cy="413.45" r="2.5"/>
<circle cx="225.68" cy="437.58" r="2.5"/>
<circle cx="225.68" cy="436.15" r="2.5"/>
<circle cx="225.68" cy="435.67" r="2.5"/>
<circle cx="225.68" cy="435.09" r="2.5"/>
<circle cx="225.68" cy="433.99" r="2.5"/>
<circle cx="225.68" cy="433.26" r="2.5"/>
<circle cx="225.68" cy="432.86" r="2.5"/>
<circle cx="225.68" cy="432.42" r="2.5"/>
<circle cx="225.68" cy="431.14" r="2.5"/>
<circle cx="225.68" cy="430.74" r="2.5"/>
<circle cx="225.68" cy="430.08" r="2.5"/>
<circle cx="225.68" cy="429.35" r="2.5"/>
<circle cx="225.68" cy="428.87" r="2.5"/>
<circle cx="225.68" cy="428.40" r="2.5"/>
<circle cx="225.68" cy="427.70" r="2.5"/>
<circle cx="225.68" cy="427.41" r="2.5"/>
<circle cx="225.68" cy="426.90" r="2.5"/>
<circle cx="225.68" cy="426.61" r="2.5"/>
<circle cx="225.68" cy="426.13" r="2.5"/>
<circle cx="225.68" cy="425.62" r="2.5"/>
<circle cx="225.68" cy="425.11" r="2.5"/>
<circle cx="225.68" cy="424.45" r="2.5"/>
<circle cx="225.68" cy="424.08" r="2.5"/>
<circle cx="225.68" cy="423.43" r="2.5"/>
<circle cx="225.68" cy="422.07" r="2.5"/>
<circle cx="225.68" cy="421.45" r="2.5"/>
<circle cx="225.68" cy="420.83" r="2.5"/>
<circle cx="225.68" cy="420.21" r="2.5"/>
<circle cx="225.68" cy="419.88" r="2.5"/>
<circle cx="225.68" cy="419.33" r="2.5"/>
<circle cx="225.68" cy="419.08" r="2.5"/>
<circle cx="225.68" cy="418.45" r="2.5"/>
<circle cx="225.68" cy="418.13" r="2.5"/>
<circle cx="225.68" cy="417.69" r="2.5"/>
<circle cx="236.82" cy="342.88" r="2.5"/>
<circle cx="236.82" cy="373.23" r="2.5"/>
<circle cx="236.82" cy="386.03" r="2.5"/>
<circle cx="236.82" cy="395.53" r="2.5"/>
<circle cx="236.82" cy="404.31" r="2.5"/>
<circle cx="236.82" cy="407.60" r="2.5"/>
<circle cx="236.82" cy="422.22" r="2.5"/>
<circle cx="236.82" cy="421.20" r="2.5"/>
<circle cx="236.82" cy="420.25" r="2.5"/>
<circle cx="236.82" cy="419.04" r="2.5"/>
<circle cx="236.82" cy="417.94" r="2.5"/>
<circle cx="236.82" cy="415.13" r="2.5"/>
<circle cx="236.82" cy="413.74" r="2.5"/>
<circle cx="236.82" cy="412.35" r="2.5"/>
<circle cx="236.82" cy="410.78" r="2.5"/>
<circle cx="236.82" cy="409.57" r="2.5"/>
<circle cx="236.82" cy="437.94" r="2.5"/>
<circle cx="236.82" cy="437.65" r="2.5"/>
<circle cx="236.82" cy="437.14" r="2.5"/>
<circle cx="236.82" cy="436.92" r="2.5"/>
<circle cx="236.82" cy="436.70" r="2.5"/>
<circle cx="236.82" cy="436.44" r="2.5"/>
<circle cx="236.82" cy="435.97" r="2.5"/>
<circle cx="236.82" cy="435.64" r="2.5"/>
<circle cx="236.82" cy="435.13" r="2.5"/>
<circle cx="236.82" cy="434.18" r="2.5"/>
<circle cx="236.82" cy="433.74" r="2.5"/>
<circle cx="236.82" cy="432.75" r="2.5"/>
<circle cx="236.82" cy="432.27" r="2.5"/>
<circle cx="236.82" cy="431.98" r="2.5"/>
<circle cx="236.82" cy="431.47" r="2.5"/>
<circle cx="236.82" cy="431.03" r="2.5"/>
<circle cx="236.82" cy="430.67" r="2.5"/>
<circle cx="236.82" cy="430.30" r="2.5"/>
<circle cx="236.82" cy="430.08" r="2.5"/>
<circle cx="236.82" cy="429.17" r="2.5"/>
<circle cx="236.82" cy="428.65" r="2.5"/>
<circle cx="236.82" cy="428.25" r="2.5"/>
<circle cx="236.82" cy="428.00" r="2.5"/>
<circle cx="236.82" cy="427.59" r="2.5"/>
<circle cx="236.82" cy="427.30" r="2.5"/>
<circle cx="236.82" cy="426.83" r="2.5"/>
<circle cx="236.82" cy="426.39" r="2.5"/>
<circle cx="236.82" cy="426.02" r="2.5"/>
<circle cx="236.82" cy="425.66" r="2.5"/>
<circle cx="236.82" cy="424.78" r="2.5"/>
<circle cx="236.82" cy="424.38" r="2.5"/>
<circle cx="236.82" cy="424.08" r="2.5"/>
<circle cx="236.82" cy="423.68" r="2.5"/>
<circle cx="236.82" cy="423.21" r="2.5"/>
<circle cx="236.82" cy="422.77" r="2.5"/>
<circle cx="247.96" cy="292.80" r="2.5"/>
<circle cx="247.96" cy="357.87" r="2.5"/>
<circle cx="247.96" cy="378.90" r="2.5"/>
<circle cx="247.96" cy="382.92" r="2.5"/>
<circle cx="247.96" cy="386.76" r="2.5"/>
<circle cx="247.96" cy="397.18" r="2.5"/>
<circle cx="247.96" cy="402.48" r="2.5"/>
<circle cx="247.96" cy="404.67" r="2.5"/>
<circle cx="247.96" cy="423.32" r="2.5"/>
<circle cx="247.96" cy="421.53" r="2.5"/>
<circle cx="247.96" cy="420.39" r="2.5"/>
<circle cx="247.96" cy="418.78" r="2.5"/>
<circle cx="247.96" cy="415.75" r="2.5"/>
<circle cx="247.96" cy="414.07" r="2.5"/>
<circle cx="247.96" cy="412.75" r="2.5"/>
<circle cx="247.96" cy="410.81" r="2.5"/>
<circle cx="247.96" cy="409.86" r="2.5"/>
<circle cx="247.96" cy="408.33" r="2.5"/>
<circle cx="247.96" cy="407.38" r="2.5"/>
<circle cx="247.96" cy="406.54" r="2.5"/>
<circle cx="247.96" cy="437.94" r="2.5"/>
<circle cx="247.96" cy="437.43" r="2.5"/>
<circle cx="247.96" cy="436.99" r="2.5"/>
<circle cx="247.96" cy="436.48" r="2.5"/>
<circle cx="247.96" cy="435.53" r="2.5"/>
<circle cx="247.96" cy="435.13" r="2.5"/>
<circle cx="247.96" cy="434.83" r="2.5"/>
<circle cx="247.96" cy="434.47" r="2.5"/>
<circle cx="247.96" cy="434.21" r="2.5"/>
<circle cx="247.96" cy="433.77" r="2.5"/>
<circle cx="247.96" cy="433.44" r="2.5"/>
<circle cx="247.96" cy="433.04" r="2.5"/>
<circle cx="247.96" cy="432.79" r="2.5"/>
<circle cx="247.96" cy="432.49" r="2.5"/>
<circle cx="247.96" cy="432.27" r="2.5"/>
<circle cx="247.96" cy="431.84" r="2.5"/>
<circle cx="247.96" cy="431.51" r="2.5"/>
<circle cx="247.96" cy="431.18" r="2.5"/>
<circle cx="247.96" cy="430.74" r="2.5"/>
<circle cx="247.96" cy="430.26" r="2.5"/>
<circle cx="247.96" cy="430.04" r="2.5"/>
<circle cx="247.96" cy="429.75" r="2.5"/>
<circle cx="247.96" cy="429.35" r="2.5"/>
<circle cx="247.96" cy="428.98" r="2.5"/>
<circle cx="247.96" cy="428.73" r="2.5"/>
<circle cx="247.96" cy="428.40" r="2.5"/>
<circle cx="247.96" cy="428.00" r="2.5"/>
<circle cx="247.96" cy="427.56" r="2.5"/>
<circle cx="247.96" cy="427.27" r="2.5"/>
<circle cx="247.96" cy="426.75" r="2.5"/>
<circle cx="247.96" cy="426.46" r="2.5"/>
<circle cx="247.96" cy="426.02" r="2.5"/>
<circle cx="247.96" cy="425.58" r="2.5"/>
<circle cx="247.96" cy="425.25" r="2.5"/>
<circle cx="247.96" cy="424.96" r="2.5"/>
<circle cx="247.96" cy="424.67" r="2.5"/>
<circle cx="247.96" cy="424.38" r="2.5"/>
<circle cx="247.96" cy="423.97" r="2.5"/>
<circle cx="259.10" cy="338.13" r="2.5"/>
<circle cx="259.10" cy="372.13" r="2.5"/>
<circle cx="259.10" cy="378.35" r="2.5"/>
<circle cx="259.10" cy="382.19" r="2.5"/>
<circle cx="259.10" cy="396.45" r="2.5"/>
<circle cx="259.10" cy="399.55" r="2.5"/>
<circle cx="259.10" cy="402.48" r="2.5"/>
<circle cx="259.10" cy="405.40" r="2.5"/>
<circle cx="259.10" cy="385.11" r="2.5"/>
<circle cx="259.10" cy="384.71" r="2.5"/>
<circle cx="259.10" cy="388.22" r="2.5"/>
<circle cx="259.10" cy="387.82" r="2.5"/>
<circle cx="259.10" cy="391.14" r="2.5"/>
<circle cx="259.10" cy="390.74" r="2.5"/>
<circle cx="259.10" cy="393.34" r="2.5"/>
<circle cx="259.10" cy="392.94" r="2.5"/>
<circle cx="259.10" cy="411.62" r="2.5"/>
<circle cx="259.10" cy="410.34" r="2.5"/>
<circle cx="259.10" cy="408.73" r="2.5"/>
<circle cx="259.10" cy="437.94" r="2.5"/>
<circle cx="259.10" cy="437.43" r="2.5"/>
<circle cx="259.10" cy="436.99" r="2.5"/>
<circle cx="259.10" cy="435.97" r="2.5"/>
<circle cx="259.10" cy="435.49" r="2.5"/>
<circle cx="259.10" cy="435.16" r="2.5"/>
<circle cx="259.10" cy="434.94" r="2.5"/>
<circle cx="259.10" cy="434.43" r="2.5"/>
<circle cx="259.10" cy="434.03" r="2.5"/>
<circle cx="259.10" cy="433.66" r="2.5"/>
<circle cx="259.10" cy="433.19" r="2.5"/>
<circle cx="259.10" cy="432.71" r="2.5"/>
<circle cx="259.10" cy="432.49" r="2.5"/>
<circle cx="259.10" cy="432.16" r="2.5"/>
<circle cx="259.10" cy="431.91" r="2.5"/>
<circle cx="259.10" cy="431.58" r="2.5"/>
<circle cx="259.10" cy="431.32" r="2.5"/>
<circle cx="259.10" cy="431.03" r="2.5"/>
<circle cx="259.10" cy="430.78" r="2.5"/>
<circle cx="259.10" cy="430.41" r="2.5"/>
<circle cx="259.10" cy="429.90" r="2.5"/>
<circle cx="259.10" cy="429.42" r="2.5"/>
<circle cx="259.10" cy="429.06" r="2.5"/>
<circle cx="259.10" cy="428.65" r="2.5"/>
<circle cx="259.10" cy="428.40" r="2.5"/>
<circle cx="259.10" cy="427.92" r="2.5"/>
<circle cx="259.10" cy="427.70" r="2.5"/>
<circle cx="259.10" cy="427.30" r="2.5"/>
<circle cx="259.10" cy="427.05" r="2.5"/>
<circle cx="259.10" cy="426.68" r="2.5"/>
<circle cx="259.10" cy="426.50" r="2.5"/>
<circle cx="259.10" cy="426.10" r="2.5"/>
<circle cx="259.10" cy="425.58" r="2.5"/>
<circle cx="259.10" cy="425.33" r="2.5"/>
<circle cx="259.10" cy="424.85" r="2.5"/>
<circle cx="259.10" cy="424.56" r="2.5"/>
<circle cx="259.10" cy="424.05" r="2.5"/>
<circle cx="259.10" cy="423.65" r="2.5"/>
<circle cx="259.10" cy="423.21" r="2.5"/>
<circle cx="259.10" cy="422.88" r="2.5"/>
<circle cx="259.10" cy="422.51" r="2.5"/>
<circle cx="259.10" cy="422.15" r="2.5"/>
<circle cx="259.10" cy="421.85" r="2.5"/>
<circle cx="259.10" cy="421.60" r="2.5"/>
<circle cx="259.10" cy="421.34" r="2.5"/>
<circle cx="259.10" cy="421.16" r="2.5"/>
<circle cx="259.10" cy="420.32" r="2.5"/>
<circle cx="259.10" cy="420.06" r="2.5"/>
<circle cx="259.10" cy="419.70" r="2.5"/>
<circle cx="259.10" cy="419.33" r="2.5"/>
<circle cx="259.10" cy="419.08" r="2.5"/>
<circle cx="259.10" cy="418.56" r="2.5"/>
<circle cx="259.10" cy="418.20" r="2.5"/>
<circle cx="259.10" cy="417.98" r="2.5"/>
<circle cx="259.10" cy="417.72" r="2.5"/>
<circle cx="259.10" cy="417.50" r="2.5"/>
<circle cx="259.10" cy="417.17" r="2.5"/>
<circle cx="259.10" cy="416.88" r="2.5"/>
<circle cx="259.10" cy="416.41" r="2.5"/>
<circle cx="259.10" cy="415.93" r="2.5"/>
<circle cx="259.10" cy="415.42" r="2.5"/>
<circle cx="259.10" cy="414.91" r="2.5"/>
<circle cx="259.10" cy="414.65" r="2.5"/>
<circle cx="259.10" cy="414.40" r="2.5"/>
<circle cx="259.10" cy="413.41" r="2.5"/>
<circle cx="259.10" cy="412.97" r="2.5"/>
<circle cx="259.10" cy="412.57" r="2.5"/>
<circle cx="259.10" cy="412.17" r="2.5"/>
<circle cx="270.24" cy="276.16" r="2.5"/>
<circle cx="270.24" cy="343.07" r="2.5"/>
<circle cx="270.24" cy="345.81" r="2.5"/>
<circle cx="270.24" cy="348.73" r="2.5"/>
<circle cx="270.24" cy="363.36" r="2.5"/>
<circle cx="270.24" cy="367.01" r="2.5"/>
<circle cx="270.24" cy="377.62" r="2.5"/>
<circle cx="270.24" cy="380.54" r="2.5"/>
<circle cx="270.24" cy="387.49" r="2.5"/>
<circle cx="270.24" cy="391.14" r="2.5"/>
<circle cx="270.24" cy="395.71" r="2.5"/>
<circle cx="270.24" cy="397.91" r="2.5"/>
<circle cx="270.24" cy="400.28" r="2.5"/>
<circle cx="270.24" cy="405.40" r="2.5"/>
<circle cx="270.24" cy="407.60" r="2.5"/>
<circle cx="270.24" cy="374.87" r="2.5"/>
<circle cx="270.24" cy="374.47" r="2.5"/>
<circle cx="270.24" cy="385.11" r="2.5"/>
<circle cx="270.24" cy="384.71" r="2.5"/>
<circle cx="270.24" cy="393.34" r="2.5"/>
<circle cx="270.24" cy="392.94" r="2.5"/>
<circle cx="270.24" cy="403.21" r="2.5"/>
<circle cx="270.24" cy="402.81" r="2.5"/>
<circle cx="270.24" cy="414.18" r="2.5"/>
<circle cx="270.24" cy="413.01" r="2.5"/>
<circle cx="270.24" cy="411.95" r="2.5"/>
<circle cx="270.24" cy="410.26" r="2.5"/>
<circle cx="270.24" cy="437.94" r="2.5"/>
<circle cx="270.24" cy="437.54" r="2.5"/>
<circle cx="270.24" cy="437.10" r="2.5"/>
<circle cx="270.24" cy="436.84" r="2.5"/>
<circle cx="270.24" cy="436.44" r="2.5"/>
<circle cx="270.24" cy="436.08" r="2.5"/>
<circle cx="270.24" cy="435.64" r="2.5"/>
<circle cx="270.24" cy="435.38" r="2.5"/>
<circle cx="270.24" cy="435.02" r="2.5"/>
<circle cx="270.24" cy="434.80" r="2.5"/>
<circle cx="270.24" cy="433.92" r="2.5"/>
<circle cx="270.24" cy="433.66" r="2.5"/>
<circle cx="270.24" cy="433.22" r="2.5"/>
<circle cx="270.24" cy="433.04" r="2.5"/>
<circle cx="270.24" cy="432.53" r="2.5"/>
<circle cx="270.24" cy="432.31" r="2.5"/>
<circle cx="270.24" cy="431.98" r="2.5"/>
<circle cx="270.24" cy="431.69" r="2.5"/>
<circle cx="270.24" cy="431.29" r="2.5"/>
<circle cx="270.24" cy="430.78" r="2.5"/>
<circle cx="270.24" cy="430.26" r="2.5"/>
<circle cx="270.24" cy="429.82" r="2.5"/>
<circle cx="270.24" cy="429.35" r="2.5"/>
<circle cx="270.24" cy="428.47" r="2.5"/>
<circle cx="270.24" cy="428.14" r="2.5"/>
<circle cx="270.24" cy="427.27" r="2.5"/>
<circle cx="270.24" cy="426.86" r="2.5"/>
<circle cx="270.24" cy="426.35" r="2.5"/>
<circle cx="270.24" cy="425.91" r="2.5"/>
<circle cx="270.24" cy="425.55" r="2.5"/>
<circle cx="270.24" cy="425.14" r="2.5"/>
<circle cx="270.24" cy="424.85" r="2.5"/>
<circle cx="270.24" cy="424.41" r="2.5"/>
<circle cx="270.24" cy="424.19" r="2.5"/>
<circle cx="270.24" cy="423.79" r="2.5"/>
<circle cx="270.24" cy="423.39" r="2.5"/>
<circle cx="270.24" cy="423.02" r="2.5"/>
<circle cx="270.24" cy="422.73" r="2.5"/>
<circle cx="270.24" cy="422.51" r="2.5"/>
<circle cx="270.24" cy="421.96" r="2.5"/>
<circle cx="270.24" cy="420.98" r="2.5"/>
<circle cx="270.24" cy="420.47" r="2.5"/>
<circle cx="270.24" cy="420.28" r="2.5"/>
<circle cx="270.24" cy="420.03" r="2.5"/>
<circle cx="270.24" cy="419.62" r="2.5"/>
<circle cx="270.24" cy="419.22" r="2.5"/>
<circle cx="270.24" cy="418.71" r="2.5"/>
<circle cx="270.24" cy="418.34" r="2.5"/>
<circle cx="270.24" cy="417.58" r="2.5"/>
<circle cx="270.24" cy="417.07" r="2.5"/>
<circle cx="270.24" cy="416.85" r="2.5"/>
<circle cx="270.24" cy="416.63" r="2.5"/>
<circle cx="270.24" cy="416.11" r="2.5"/>
<circle cx="270.24" cy="415.82" r="2.5"/>
<circle cx="270.24" cy="415.57" r="2.5"/>
<circle cx="270.24" cy="415.35" r="2.5"/>
<circle cx="270.24" cy="415.13" r="2.5"/>
<circle cx="270.24" cy="414.73" r="2.5"/>
<circle cx="281.38" cy="310.71" r="2.5"/>
<circle cx="281.38" cy="315.10" r="2.5"/>
<circle cx="281.38" cy="316.56" r="2.5"/>
<circle cx="281.38" cy="330.27" r="2.5"/>
<circle cx="281.38" cy="333.01" r="2.5"/>
<circle cx="281.38" cy="351.29" r="2.5"/>
<circle cx="281.38" cy="354.22" r="2.5"/>
<circle cx="281.38" cy="357.33" r="2.5"/>
<circle cx="281.38" cy="367.75" r="2.5"/>
<circle cx="281.38" cy="370.85" r="2.5"/>
<circle cx="281.38" cy="376.89" r="2.5"/>
<circle cx="281.38" cy="379.08" r="2.5"/>
<circle cx="281.38" cy="385.11" r="2.5"/>
<circle cx="281.38" cy="388.95" r="2.5"/>
<circle cx="281.38" cy="397.91" r="2.5"/>
<circle cx="281.38" cy="400.28" r="2.5"/>
<circle cx="281.38" cy="402.48" r="2.5"/>
<circle cx="281.38" cy="404.67" r="2.5"/>
<circle cx="281.38" cy="382.92" r="2.5"/>
<circle cx="281.38" cy="382.52" r="2.5"/>
<circle cx="281.38" cy="391.14" r="2.5"/>
<circle cx="281.38" cy="390.74" r="2.5"/>
<circle cx="281.38" cy="393.34" r="2.5"/>
<circle cx="281.38" cy="392.94" r="2.5"/>
<circle cx="281.38" cy="395.71" r="2.5"/>
<circle cx="281.38" cy="395.31" r="2.5"/>
<circle cx="281.38" cy="395.17" r="2.5"/>
<circle cx="281.38" cy="394.76" r="2.5"/>
<circle cx="281.38" cy="406.86" r="2.5"/>
<circle cx="281.38" cy="406.46" r="2.5"/>
<circle cx="281.38" cy="411.25" r="2.5"/>
<circle cx="281.38" cy="410.59" r="2.5"/>
<circle cx="281.38" cy="409.86" r="2.5"/>
<circle cx="281.38" cy="408.40" r="2.5"/>
<circle cx="281.38" cy="437.94" r="2.5"/>
<circle cx="281.38" cy="437.68" r="2.5"/>
<circle cx="281.38" cy="437.25" r="2.5"/>
<circle cx="281.38" cy="436.81" r="2.5"/>
<circle cx="281.38" cy="436.44" r="2.5"/>
<circle cx="281.38" cy="436.11" r="2.5"/>
<circle cx="281.38" cy="435.24" r="2.5"/>
<circle cx="281.38" cy="434.91" r="2.5"/>
<circle cx="281.38" cy="434.61" r="2.5"/>
<circle cx="281.38" cy="433.85" r="2.5"/>
<circle cx="281.38" cy="433.55" r="2.5"/>
<circle cx="281.38" cy="433.33" r="2.5"/>
<circle cx="281.38" cy="432.86" r="2.5"/>
<circle cx="281.38" cy="432.57" r="2.5"/>
<circle cx="281.38" cy="432.38" r="2.5"/>
<circle cx="281.38" cy="432.05" r="2.5"/>
<circle cx="281.38" cy="431.76" r="2.5"/>
<circle cx="281.38" cy="431.47" r="2.5"/>
<circle cx="281.38" cy="430.96" r="2.5"/>
<circle cx="281.38" cy="430.52" r="2.5"/>
<circle cx="281.38" cy="430.30" r="2.5"/>
<circle cx="281.38" cy="429.93" r="2.5"/>
<circle cx="281.38" cy="428.87" r="2.5"/>
<circle cx="281.38" cy="428.65" r="2.5"/>
<circle cx="281.38" cy="427.63" r="2.5"/>
<circle cx="281.38" cy="427.34" r="2.5"/>
<circle cx="281.38" cy="426.94" r="2.5"/>
<circle cx="281.38" cy="426.61" r="2.5"/>
<circle cx="281.38" cy="426.35" r="2.5"/>
<circle cx="281.38" cy="426.06" r="2.5"/>
<circle cx="281.38" cy="425.00" r="2.5"/>
<circle cx="281.38" cy="424.63" r="2.5"/>
<circle cx="281.38" cy="424.30" r="2.5"/>
<circle cx="281.38" cy="423.87" r="2.5"/>
<circle cx="281.38" cy="423.54" r="2.5"/>
<circle cx="281.38" cy="423.06" r="2.5"/>
<circle cx="281.38" cy="422.84" r="2.5"/>
<circle cx="281.38" cy="422.51" r="2.5"/>
<circle cx="281.38" cy="422.04" r="2.5"/>
<circle cx="281.38" cy="421.74" r="2.5"/>
<circle cx="281.38" cy="421.31" r="2.5"/>
<circle cx="281.38" cy="421.05" r="2.5"/>
<circle cx="281.38" cy="420.61" r="2.5"/>
<circle cx="281.38" cy="420.28" r="2.5"/>
<circle cx="281.38" cy="419.30" r="2.5"/>
<circle cx="281.38" cy="418.86" r="2.5"/>
<circle cx="281.38" cy="418.60" r="2.5"/>
<circle cx="281.38" cy="418.09" r="2.5"/>
<circle cx="281.38" cy="417.58" r="2.5"/>
<circle cx="281.38" cy="417.14" r="2.5"/>
<circle cx="281.38" cy="416.63" r="2.5"/>
<circle cx="281.38" cy="416.22" r="2.5"/>
<circle cx="281.38" cy="415.97" r="2.5"/>
<circle cx="281.38" cy="415.09" r="2.5"/>
<circle cx="281.38" cy="414.65" r="2.5"/>
<circle cx="281.38" cy="414.29" r="2.5"/>
<circle cx="281.38" cy="414.03" r="2.5"/>
<circle cx="281.38" cy="413.70" r="2.5"/>
<circle cx="281.38" cy="412.82" r="2.5"/>
<circle cx="281.38" cy="412.57" r="2.5"/>
<circle cx="281.38" cy="412.06" r="2.5"/>
<circle cx="281.38" cy="411.73" r="2.5"/>
<circle cx="292.52" cy="323.69" r="2.5"/>
<circle cx="292.52" cy="333.38" r="2.5"/>
<circle cx="292.52" cy="352.02" r="2.5"/>
<circle cx="292.52" cy="357.33" r="2.5"/>
<circle cx="292.52" cy="359.70" r="2.5"/>
<circle cx="292.52" cy="369.21" r="2.5"/>
<circle cx="292.52" cy="371.58" r="2.5"/>
<circle cx="292.52" cy="374.69" r="2.5"/>
<circle cx="292.52" cy="379.08" r="2.5"/>
<circle cx="292.52" cy="382.19" r="2.5"/>
<circle cx="292.52" cy="386.76" r="2.5"/>
<circle cx="292.52" cy="391.88" r="2.5"/>
<circle cx="292.52" cy="394.07" r="2.5"/>
<circle cx="292.52" cy="397.91" r="2.5"/>
<circle cx="292.52" cy="400.28" r="2.5"/>
<circle cx="292.52" cy="403.21" r="2.5"/>
<circle cx="292.52" cy="405.40" r="2.5"/>
<circle cx="292.52" cy="341.79" r="2.5"/>
<circle cx="292.52" cy="341.39" r="2.5"/>
<circle cx="292.52" cy="354.95" r="2.5"/>
<circle cx="292.52" cy="354.55" r="2.5"/>
<circle cx="292.52" cy="362.63" r="2.5"/>
<circle cx="292.52" cy="362.23" r="2.5"/>
<circle cx="292.52" cy="364.82" r="2.5"/>
<circle cx="292.52" cy="364.42" r="2.5"/>
<circle cx="292.52" cy="367.01" r="2.5"/>
<circle cx="292.52" cy="366.61" r="2.5"/>
<circle cx="292.52" cy="376.15" r="2.5"/>
<circle cx="292.52" cy="375.75" r="2.5"/>
<circle cx="292.52" cy="375.61" r="2.5"/>
<circle cx="292.52" cy="375.20" r="2.5"/>
<circle cx="292.52" cy="384.38" r="2.5"/>
<circle cx="292.52" cy="383.98" r="2.5"/>
<circle cx="292.52" cy="389.68" r="2.5"/>
<circle cx="292.52" cy="389.28" r="2.5"/>
<circle cx="292.52" cy="396.45" r="2.5"/>
<circle cx="292.52" cy="396.04" r="2.5"/>
<circle cx="292.52" cy="424.05" r="2.5"/>
<circle cx="292.52" cy="422.99" r="2.5"/>
<circle cx="292.52" cy="421.82" r="2.5"/>
<circle cx="292.52" cy="419.70" r="2.5"/>
<circle cx="292.52" cy="418.67" r="2.5"/>
<circle cx="292.52" cy="417.58" r="2.5"/>
<circle cx="292.52" cy="416.08" r="2.5"/>
<circle cx="292.52" cy="414.29" r="2.5"/>
<circle cx="292.52" cy="413.04" r="2.5"/>
<circle cx="292.52" cy="411.00" r="2.5"/>
<circle cx="292.52" cy="409.57" r="2.5"/>
<circle cx="292.52" cy="407.78" r="2.5"/>
<circle cx="292.52" cy="437.94" r="2.5"/>
<circle cx="292.52" cy="437.50" r="2.5"/>
<circle cx="292.52" cy="437.10" r="2.5"/>
<circle cx="292.52" cy="436.88" r="2.5"/>
<circle cx="292.52" cy="436.37" r="2.5"/>
<circle cx="292.52" cy="435.89" r="2.5"/>
<circle cx="292.52" cy="435.64" r="2.5"/>
<circle cx="292.52" cy="435.35" r="2.5"/>
<circle cx="292.52" cy="434.98" r="2.5"/>
<circle cx="292.52" cy="434.69" r="2.5"/>
<circle cx="292.52" cy="434.32" r="2.5"/>
<circle cx="292.52" cy="433.85" r="2.5"/>
<circle cx="292.52" cy="433.55" r="2.5"/>
<circle cx="292.52" cy="433.26" r="2.5"/>
<circle cx="292.52" cy="432.82" r="2.5"/>
<circle cx="292.52" cy="432.38" r="2.5"/>
<circle cx="292.52" cy="432.09" r="2.5"/>
<circle cx="292.52" cy="431.10" r="2.5"/>
<circle cx="292.52" cy="430.70" r="2.5"/>
<circle cx="292.52" cy="430.30" r="2.5"/>
<circle cx="292.52" cy="429.93" r="2.5"/>
<circle cx="292.52" cy="429.50" r="2.5"/>
<circle cx="292.52" cy="429.09" r="2.5"/>
<circle cx="292.52" cy="428.76" r="2.5"/>
<circle cx="292.52" cy="428.47" r="2.5"/>
<circle cx="292.52" cy="428.18" r="2.5"/>
<circle cx="292.52" cy="427.70" r="2.5"/>
<circle cx="292.52" cy="427.19" r="2.5"/>
<circle cx="292.52" cy="426.72" r="2.5"/>
<circle cx="292.52" cy="426.21" r="2.5"/>
<circle cx="292.52" cy="425.69" r="2.5"/>
<circle cx="292.52" cy="425.33" r="2.5"/>
<circle cx="292.52" cy="424.78" r="2.5"/>
<circle cx="292.52" cy="424.56" r="2.5"/>
<circle cx="303.66" cy="278.54" r="2.5"/>
<circle cx="303.66" cy="328.26" r="2.5"/>
<circle cx="303.66" cy="337.40" r="2.5"/>
<circle cx="303.66" cy="343.07" r="2.5"/>
<circle cx="303.66" cy="346.72" r="2.5"/>
<circle cx="303.66" cy="352.02" r="2.5"/>
<circle cx="303.66" cy="372.32" r="2.5"/>
<circle cx="303.66" cy="374.87" r="2.5"/>
<circle cx="303.66" cy="377.62" r="2.5"/>
<circle cx="303.66" cy="380.54" r="2.5"/>
<circle cx="303.66" cy="382.92" r="2.5"/>
<circle cx="303.66" cy="385.84" r="2.5"/>
<circle cx="303.66" cy="388.22" r="2.5"/>
<circle cx="303.66" cy="391.14" r="2.5"/>
<circle cx="303.66" cy="393.34" r="2.5"/>
<circle cx="303.66" cy="395.71" r="2.5"/>
<circle cx="303.66" cy="398.64" r="2.5"/>
<circle cx="303.66" cy="401.75" r="2.5"/>
<circle cx="303.66" cy="367.01" r="2.5"/>
<circle cx="303.66" cy="366.61" r="2.5"/>
<circle cx="303.66" cy="366.65" r="2.5"/>
<circle cx="303.66" cy="366.25" r="2.5"/>
<circle cx="303.66" cy="412.71" r="2.5"/>
<circle cx="303.66" cy="411.65" r="2.5"/>
<circle cx="303.66" cy="407.56" r="2.5"/>
<circle cx="303.66" cy="406.39" r="2.5"/>
<circle cx="303.66" cy="405.33" r="2.5"/>
<circle cx="303.66" cy="437.94" r="2.5"/>
<circle cx="303.66" cy="437.58" r="2.5"/>
<circle cx="303.66" cy="436.55" r="2.5"/>
<circle cx="303.66" cy="436.11" r="2.5"/>
<circle cx="303.66" cy="435.86" r="2.5"/>
<circle cx="303.66" cy="435.53" r="2.5"/>
<circle cx="303.66" cy="435.05" r="2.5"/>
<circle cx="303.66" cy="434.76" r="2.5"/>
<circle cx="303.66" cy="434.36" r="2.5"/>
<circle cx="303.66" cy="433.85" r="2.5"/>
<circle cx="303.66" cy="433.63" r="2.5"/>
<circle cx="303.66" cy="433.08" r="2.5"/>
<circle cx="303.66" cy="432.20" r="2.5"/>
<circle cx="303.66" cy="431.91" r="2.5"/>
<circle cx="303.66" cy="431.65" r="2.5"/>
<circle cx="303.66" cy="431.32" r="2.5"/>
<circle cx="303.66" cy="430.85" r="2.5"/>
<circle cx="303.66" cy="430.45" r="2.5"/>
<circle cx="303.66" cy="430.04" r="2.5"/>
<circle cx="303.66" cy="429.61" r="2.5"/>
<circle cx="303.66" cy="429.28" r="2.5"/>
<circle cx="303.66" cy="429.06" r="2.5"/>
<circle cx="303.66" cy="428.69" r="2.5"/>
<circle cx="303.66" cy="428.29" r="2.5"/>
<circle cx="303.66" cy="427.81" r="2.5"/>
<circle cx="303.66" cy="427.30" r="2.5"/>
<circle cx="303.66" cy="426.90" r="2.5"/>
<circle cx="303.66" cy="426.50" r="2.5"/>
<circle cx="303.66" cy="425.73" r="2.5"/>
<circle cx="303.66" cy="425.40" r="2.5"/>
<circle cx="303.66" cy="425.00" r="2.5"/>
<circle cx="303.66" cy="424.60" r="2.5"/>
<circle cx="303.66" cy="424.16" r="2.5"/>
<circle cx="303.66" cy="423.68" r="2.5"/>
<circle cx="303.66" cy="423.46" r="2.5"/>
<circle cx="303.66" cy="422.95" r="2.5"/>
<circle cx="303.66" cy="421.89" r="2.5"/>
<circle cx="303.66" cy="421.45" r="2.5"/>
<circle cx="303.66" cy="420.98" r="2.5"/>
<circle cx="303.66" cy="420.50" r="2.5"/>
<circle cx="303.66" cy="420.32" r="2.5"/>
<circle cx="303.66" cy="419.88" r="2.5"/>
<circle cx="303.66" cy="419.11" r="2.5"/>
<circle cx="303.66" cy="418.89" r="2.5"/>
<circle cx="303.66" cy="417.94" r="2.5"/>
<circle cx="303.66" cy="417.58" r="2.5"/>
<circle cx="303.66" cy="416.74" r="2.5"/>
<circle cx="303.66" cy="416.52" r="2.5"/>
<circle cx="303.66" cy="416.00" r="2.5"/>
<circle cx="303.66" cy="415.64" r="2.5"/>
<circle cx="303.66" cy="415.20" r="2.5"/>
<circle cx="303.66" cy="414.73" r="2.5"/>
<circle cx="303.66" cy="414.40" r="2.5"/>
<circle cx="303.66" cy="414.07" r="2.5"/>
<circle cx="303.66" cy="413.63" r="2.5"/>
<circle cx="303.66" cy="413.41" r="2.5"/>
</g>
<path d="M434.58 257.70V440.50M456.86 257.70V440.50M479.14 257.70V440.50M501.42 257.70V440.50M523.70 257.70V440.50M545.98 257.70V440.50M568.26 257.70V440.50M590.54 257.70V440.50M612.82 257.70V440.50M635.10 257.70V440.50M657.38 257.70V440.50M679.66 257.70V440.50M412.30 403.94H679.66M412.30 367.38H679.66M412.30 330.82H679.66M412.30 294.26H679.66M412.30 257.70H679.66" stroke="#e4e4e4" stroke-width="0.6" stroke-dasharray="1 1.3" fill="none"/>
<path d="M412.30 257.70V440.50H679.66" stroke="#9c9c9c" stroke-width="1.4" fill="none"/>
<path d="M412.30 440.50v-2.6M434.58 440.50v-2.6M456.86 440.50v-2.6M479.14 440.50v-2.6M501.42 440.50v-2.6M523.70 440.50v-2.6M545.98 440.50v-2.6M568.26 440.50v-2.6M590.54 440.50v-2.6M612.82 440.50v-2.6M635.10 440.50v-2.6M657.38 440.50v-2.6M679.66 440.50v-2.6M412.30 440.50h2.6M412.30 403.94h2.6M412.30 367.38h2.6M412.30 330.82h2.6M412.30 294.26h2.6M412.30 257.70h2.6" stroke="#666" stroke-width="0.7" fill="none"/>
<path d="M412.30 367.38H679.66" stroke="#505050" stroke-width="0.85" fill="none"/>
<text x="412.30" y="451.30" font-size="9.0" font-weight="bold" text-anchor="middle" fill="#000" stroke="#000" stroke-width="0.24">00</text>
<text x="434.58" y="451.30" font-size="9.0" font-weight="bold" text-anchor="middle" fill="#000" stroke="#000" stroke-width="0.24">02</text>
<text x="456.86" y="451.30" font-size="9.0" font-weight="bold" text-anchor="middle" fill="#000" stroke="#000" stroke-width="0.24">04</text>
<text x="479.14" y="451.30" font-size="9.0" font-weight="bold" text-anchor="middle" fill="#000" stroke="#000" stroke-width="0.24">06</text>
<text x="501.42" y="451.30" font-size="9.0" font-weight="bold" text-anchor="middle" fill="#000" stroke="#000" stroke-width="0.24">08</text>
<text x="523.70" y="451.30" font-size="9.0" font-weight="bold" text-anchor="middle" fill="#000" stroke="#000" stroke-width="0.24">10</text>
<text x="545.98" y="451.30" font-size="9.0" font-weight="bold" text-anchor="middle" fill="#000" stroke="#000" stroke-width="0.24">12</text>
<text x="568.26" y="451.30" font-size="9.0" font-weight="bold" text-anchor="middle" fill="#000" stroke="#000" stroke-width="0.24">14</text>
<text x="590.54" y="451.30" font-size="9.0" font-weight="bold" text-anchor="middle" fill="#000" stroke="#000" stroke-width="0.24">16</text>
<text x="612.82" y="451.30" font-size="9.0" font-weight="bold" text-anchor="middle" fill="#000" stroke="#000" stroke-width="0.24">18</text>
<text x="635.10" y="451.30" font-size="9.0" font-weight="bold" text-anchor="middle" fill="#000" stroke="#000" stroke-width="0.24">20</text>
<text x="657.38" y="451.30" font-size="9.0" font-weight="bold" text-anchor="middle" fill="#000" stroke="#000" stroke-width="0.24">22</text>
<text x="679.66" y="451.30" font-size="9.0" font-weight="bold" text-anchor="middle" fill="#000" stroke="#000" stroke-width="0.24">24</text>
<text x="409.70" y="443.95" font-size="9.0" font-weight="bold" text-anchor="end" fill="#000" stroke="#000" stroke-width="0.24">0</text>
<text x="409.70" y="407.39" font-size="9.0" font-weight="bold" text-anchor="end" fill="#000" stroke="#000" stroke-width="0.24">10</text>
<text x="409.70" y="370.83" font-size="9.0" font-weight="bold" text-anchor="end" fill="#000" stroke="#000" stroke-width="0.24">20</text>
<text x="409.70" y="334.27" font-size="9.0" font-weight="bold" text-anchor="end" fill="#000" stroke="#000" stroke-width="0.24">30</text>
<text x="409.70" y="297.71" font-size="9.0" font-weight="bold" text-anchor="end" fill="#000" stroke="#000" stroke-width="0.24">40</text>
<text x="409.70" y="261.15" font-size="9.0" font-weight="bold" text-anchor="end" fill="#000" stroke="#000" stroke-width="0.24">50</text>
<text x="545.98" y="462.30" font-size="9.0" font-weight="bold" text-anchor="middle" fill="#000" stroke="#000" stroke-width="0.24">MLT (hr)</text>
<text transform="translate(383.00 349.10) rotate(-90)" font-size="9.0" font-weight="bold" text-anchor="middle" fill="#000" stroke="#000" stroke-width="0.24">Percentage occurrence</text>
<text transform="translate(393.50 348.60) rotate(-90)" font-size="9.0" font-weight="bold" text-anchor="middle" fill="#000" stroke="#000" stroke-width="0.24">of Phi60&gt;0.3</text>
<g fill="none" stroke="#181818" stroke-width="0.72">
<circle cx="412.30" cy="316.56" r="2.15"/>
<circle cx="412.30" cy="347.09" r="2.15"/>
<circle cx="412.30" cy="357.14" r="2.15"/>
<circle cx="412.30" cy="364.46" r="2.15"/>
<circle cx="412.30" cy="366.47" r="2.15"/>
<circle cx="412.30" cy="368.48" r="2.15"/>
<circle cx="412.30" cy="370.67" r="2.15"/>
<circle cx="412.30" cy="387.49" r="2.15"/>
<circle cx="412.30" cy="388.22" r="2.15"/>
<circle cx="412.30" cy="401.20" r="2.15"/>
<circle cx="412.30" cy="404.85" r="2.15"/>
<circle cx="412.30" cy="408.33" r="2.15"/>
<circle cx="412.30" cy="411.25" r="2.15"/>
<circle cx="412.30" cy="414.54" r="2.15"/>
<circle cx="412.30" cy="417.47" r="2.15"/>
<circle cx="412.30" cy="420.57" r="2.15"/>
<circle cx="412.30" cy="422.59" r="2.15"/>
<circle cx="412.30" cy="424.78" r="2.15"/>
<circle cx="412.30" cy="427.34" r="2.15"/>
<circle cx="412.30" cy="429.90" r="2.15"/>
<circle cx="412.30" cy="431.73" r="2.15"/>
<circle cx="412.30" cy="433.92" r="2.15"/>
<circle cx="412.30" cy="435.93" r="2.15"/>
<circle cx="412.30" cy="437.21" r="2.15"/>
<circle cx="412.30" cy="436.44" r="2.15"/>
<circle cx="412.30" cy="435.42" r="2.15"/>
<circle cx="412.30" cy="433.99" r="2.15"/>
<circle cx="412.30" cy="432.49" r="2.15"/>
<circle cx="412.30" cy="431.62" r="2.15"/>
<circle cx="412.30" cy="430.41" r="2.15"/>
<circle cx="412.30" cy="429.02" r="2.15"/>
<circle cx="412.30" cy="427.85" r="2.15"/>
<circle cx="412.30" cy="426.35" r="2.15"/>
<circle cx="412.30" cy="425.51" r="2.15"/>
<circle cx="412.30" cy="424.19" r="2.15"/>
<circle cx="412.30" cy="422.77" r="2.15"/>
<circle cx="412.30" cy="421.31" r="2.15"/>
<circle cx="412.30" cy="420.28" r="2.15"/>
<circle cx="412.30" cy="419.11" r="2.15"/>
<circle cx="412.30" cy="418.45" r="2.15"/>
<circle cx="412.30" cy="417.10" r="2.15"/>
<circle cx="412.30" cy="415.90" r="2.15"/>
<circle cx="412.30" cy="415.24" r="2.15"/>
<circle cx="423.44" cy="299.01" r="2.55"/>
<circle cx="423.44" cy="300.11" r="2.55"/>
<circle cx="423.44" cy="319.30" r="2.55"/>
<circle cx="423.44" cy="335.21" r="2.55"/>
<circle cx="423.44" cy="341.42" r="2.55"/>
<circle cx="423.44" cy="361.35" r="2.55"/>
<circle cx="423.44" cy="363.36" r="2.55"/>
<circle cx="423.44" cy="368.48" r="2.55"/>
<circle cx="423.44" cy="374.33" r="2.55"/>
<circle cx="423.44" cy="382.19" r="2.55"/>
<circle cx="423.44" cy="390.96" r="2.55"/>
<circle cx="423.44" cy="392.97" r="2.55"/>
<circle cx="423.44" cy="396.99" r="2.55"/>
<circle cx="423.44" cy="399.19" r="2.55"/>
<circle cx="423.44" cy="403.57" r="2.55"/>
<circle cx="423.44" cy="415.46" r="2.55"/>
<circle cx="423.44" cy="418.56" r="2.55"/>
<circle cx="423.44" cy="422.59" r="2.55"/>
<circle cx="423.44" cy="424.78" r="2.55"/>
<circle cx="423.44" cy="426.61" r="2.55"/>
<circle cx="423.44" cy="428.80" r="2.55"/>
<circle cx="423.44" cy="430.81" r="2.55"/>
<circle cx="423.44" cy="432.82" r="2.55"/>
<circle cx="423.44" cy="434.83" r="2.55"/>
<circle cx="423.44" cy="436.84" r="2.55"/>
<circle cx="423.44" cy="436.84" r="2.55"/>
<circle cx="423.44" cy="434.80" r="2.55"/>
<circle cx="423.44" cy="433.44" r="2.55"/>
<circle cx="423.44" cy="431.87" r="2.55"/>
<circle cx="423.44" cy="430.88" r="2.55"/>
<circle cx="423.44" cy="429.71" r="2.55"/>
<circle cx="423.44" cy="428.11" r="2.55"/>
<circle cx="423.44" cy="427.05" r="2.55"/>
<circle cx="423.44" cy="425.99" r="2.55"/>
<circle cx="423.44" cy="424.01" r="2.55"/>
<circle cx="423.44" cy="422.59" r="2.55"/>
<circle cx="434.58" cy="330.27" r="2.55"/>
<circle cx="434.58" cy="365.55" r="2.55"/>
<circle cx="434.58" cy="368.48" r="2.55"/>
<circle cx="434.58" cy="375.61" r="2.55"/>
<circle cx="434.58" cy="390.05" r="2.55"/>
<circle cx="434.58" cy="391.88" r="2.55"/>
<circle cx="434.58" cy="394.07" r="2.55"/>
<circle cx="434.58" cy="396.99" r="2.55"/>
<circle cx="434.58" cy="401.20" r="2.55"/>
<circle cx="434.58" cy="403.21" r="2.55"/>
<circle cx="434.58" cy="405.77" r="2.55"/>
<circle cx="434.58" cy="410.34" r="2.55"/>
<circle cx="434.58" cy="413.45" r="2.55"/>
<circle cx="434.58" cy="415.46" r="2.55"/>
<circle cx="434.58" cy="422.59" r="2.55"/>
<circle cx="434.58" cy="422.95" r="2.55"/>
<circle cx="434.58" cy="431.73" r="2.55"/>
<circle cx="434.58" cy="433.55" r="2.55"/>
<circle cx="434.58" cy="434.83" r="2.55"/>
<circle cx="434.58" cy="436.30" r="2.55"/>
<circle cx="434.58" cy="437.21" r="2.55"/>
<circle cx="434.58" cy="437.21" r="2.55"/>
<circle cx="434.58" cy="436.77" r="2.55"/>
<circle cx="434.58" cy="436.19" r="2.55"/>
<circle cx="434.58" cy="435.64" r="2.55"/>
<circle cx="434.58" cy="435.16" r="2.55"/>
<circle cx="434.58" cy="434.61" r="2.55"/>
<circle cx="434.58" cy="434.10" r="2.55"/>
<circle cx="434.58" cy="433.48" r="2.55"/>
<circle cx="434.58" cy="432.90" r="2.55"/>
<circle cx="434.58" cy="432.38" r="2.55"/>
<circle cx="445.72" cy="368.11" r="2.55"/>
<circle cx="445.72" cy="387.31" r="2.55"/>
<circle cx="445.72" cy="410.34" r="2.55"/>
<circle cx="445.72" cy="413.81" r="2.55"/>
<circle cx="445.72" cy="416.55" r="2.55"/>
<circle cx="445.72" cy="421.49" r="2.55"/>
<circle cx="445.72" cy="424.78" r="2.55"/>
<circle cx="445.72" cy="428.80" r="2.55"/>
<circle cx="445.72" cy="430.81" r="2.55"/>
<circle cx="445.72" cy="432.82" r="2.55"/>
<circle cx="445.72" cy="434.83" r="2.55"/>
<circle cx="445.72" cy="436.84" r="2.55"/>
<circle cx="445.72" cy="435.42" r="2.55"/>
<circle cx="445.72" cy="434.39" r="2.55"/>
<circle cx="445.72" cy="433.52" r="2.55"/>
<circle cx="445.72" cy="432.16" r="2.55"/>
<circle cx="445.72" cy="429.13" r="2.55"/>
<circle cx="456.86" cy="385.84" r="2.55"/>
<circle cx="456.86" cy="421.49" r="2.55"/>
<circle cx="456.86" cy="423.68" r="2.55"/>
<circle cx="456.86" cy="426.61" r="2.55"/>
<circle cx="456.86" cy="428.80" r="2.55"/>
<circle cx="456.86" cy="430.81" r="2.55"/>
<circle cx="456.86" cy="435.93" r="2.55"/>
<circle cx="456.86" cy="432.09" r="2.55"/>
<circle cx="468.00" cy="410.34" r="2.55"/>
<circle cx="468.00" cy="424.78" r="2.55"/>
<circle cx="468.00" cy="431.73" r="2.55"/>
<circle cx="468.00" cy="433.19" r="2.55"/>
<circle cx="468.00" cy="434.47" r="2.55"/>
<circle cx="468.00" cy="436.30" r="2.55"/>
<circle cx="479.14" cy="402.11" r="2.55"/>
<circle cx="479.14" cy="432.82" r="2.55"/>
<circle cx="479.14" cy="433.92" r="2.55"/>
<circle cx="490.28" cy="428.80" r="2.55"/>
<circle cx="490.28" cy="436.11" r="2.55"/>
<circle cx="501.42" cy="426.24" r="2.55"/>
<circle cx="501.42" cy="434.28" r="2.55"/>
<circle cx="501.42" cy="436.84" r="2.55"/>
<circle cx="512.56" cy="419.66" r="2.55"/>
<circle cx="512.56" cy="429.53" r="2.55"/>
<circle cx="512.56" cy="430.26" r="2.55"/>
<circle cx="523.70" cy="426.61" r="2.55"/>
<circle cx="523.70" cy="436.11" r="2.55"/>
<circle cx="534.84" cy="425.51" r="2.55"/>
<circle cx="534.84" cy="428.07" r="2.55"/>
<circle cx="534.84" cy="436.11" r="2.55"/>
<circle cx="545.98" cy="394.80" r="2.55"/>
<circle cx="545.98" cy="428.80" r="2.55"/>
<circle cx="545.98" cy="432.09" r="2.55"/>
<circle cx="557.12" cy="383.10" r="2.55"/>
<circle cx="557.12" cy="422.59" r="2.55"/>
<circle cx="557.12" cy="424.78" r="2.55"/>
<circle cx="557.12" cy="427.70" r="2.55"/>
<circle cx="557.12" cy="430.81" r="2.55"/>
<circle cx="557.12" cy="434.28" r="2.55"/>
<circle cx="568.26" cy="374.69" r="2.55"/>
<circle cx="568.26" cy="409.42" r="2.55"/>
<circle cx="568.26" cy="416.74" r="2.55"/>
<circle cx="568.26" cy="430.81" r="2.55"/>
<circle cx="568.26" cy="432.46" r="2.55"/>
<circle cx="568.26" cy="434.28" r="2.55"/>
<circle cx="568.26" cy="436.11" r="2.55"/>
<circle cx="579.40" cy="415.46" r="2.55"/>
<circle cx="579.40" cy="430.26" r="2.55"/>
<circle cx="579.40" cy="432.09" r="2.55"/>
<circle cx="579.40" cy="433.92" r="2.55"/>
<circle cx="579.40" cy="436.11" r="2.55"/>
<circle cx="590.54" cy="398.82" r="2.55"/>
<circle cx="590.54" cy="414.91" r="2.55"/>
<circle cx="590.54" cy="424.41" r="2.55"/>
<circle cx="590.54" cy="430.81" r="2.55"/>
<circle cx="590.54" cy="432.46" r="2.55"/>
<circle cx="590.54" cy="434.28" r="2.55"/>
<circle cx="590.54" cy="436.11" r="2.55"/>
<circle cx="601.68" cy="387.49" r="2.55"/>
<circle cx="601.68" cy="390.78" r="2.55"/>
<circle cx="601.68" cy="396.99" r="2.55"/>
<circle cx="601.68" cy="421.49" r="2.55"/>
<circle cx="601.68" cy="423.68" r="2.55"/>
<circle cx="601.68" cy="426.24" r="2.55"/>
<circle cx="601.68" cy="428.44" r="2.55"/>
<circle cx="601.68" cy="430.81" r="2.55"/>
<circle cx="601.68" cy="433.19" r="2.55"/>
<circle cx="601.68" cy="435.38" r="2.55"/>
<circle cx="612.82" cy="399.92" r="2.55"/>
<circle cx="612.82" cy="406.86" r="2.55"/>
<circle cx="612.82" cy="419.30" r="2.55"/>
<circle cx="612.82" cy="421.85" r="2.55"/>
<circle cx="612.82" cy="424.41" r="2.55"/>
<circle cx="612.82" cy="437.21" r="2.55"/>
<circle cx="612.82" cy="436.04" r="2.55"/>
<circle cx="612.82" cy="433.74" r="2.55"/>
<circle cx="612.82" cy="432.86" r="2.55"/>
<circle cx="612.82" cy="432.16" r="2.55"/>
<circle cx="612.82" cy="431.36" r="2.55"/>
<circle cx="612.82" cy="430.74" r="2.55"/>
<circle cx="612.82" cy="429.31" r="2.55"/>
<circle cx="612.82" cy="428.11" r="2.55"/>
<circle cx="612.82" cy="427.16" r="2.55"/>
<circle cx="612.82" cy="426.28" r="2.55"/>
<circle cx="623.96" cy="379.81" r="2.55"/>
<circle cx="623.96" cy="411.62" r="2.55"/>
<circle cx="623.96" cy="413.08" r="2.55"/>
<circle cx="623.96" cy="414.91" r="2.55"/>
<circle cx="623.96" cy="418.56" r="2.55"/>
<circle cx="623.96" cy="420.94" r="2.55"/>
<circle cx="623.96" cy="423.50" r="2.55"/>
<circle cx="623.96" cy="437.21" r="2.55"/>
<circle cx="623.96" cy="436.48" r="2.55"/>
<circle cx="623.96" cy="435.31" r="2.55"/>
<circle cx="623.96" cy="434.14" r="2.55"/>
<circle cx="623.96" cy="433.52" r="2.55"/>
<circle cx="623.96" cy="432.42" r="2.55"/>
<circle cx="623.96" cy="431.07" r="2.55"/>
<circle cx="623.96" cy="430.12" r="2.55"/>
<circle cx="623.96" cy="429.28" r="2.55"/>
<circle cx="623.96" cy="428.47" r="2.55"/>
<circle cx="623.96" cy="427.23" r="2.55"/>
<circle cx="635.10" cy="378.53" r="2.55"/>
<circle cx="635.10" cy="390.05" r="2.55"/>
<circle cx="635.10" cy="392.24" r="2.55"/>
<circle cx="635.10" cy="402.11" r="2.55"/>
<circle cx="635.10" cy="404.67" r="2.55"/>
<circle cx="635.10" cy="406.50" r="2.55"/>
<circle cx="635.10" cy="409.79" r="2.55"/>
<circle cx="635.10" cy="412.35" r="2.55"/>
<circle cx="635.10" cy="414.91" r="2.55"/>
<circle cx="635.10" cy="417.47" r="2.55"/>
<circle cx="635.10" cy="420.03" r="2.55"/>
<circle cx="635.10" cy="420.21" r="2.55"/>
<circle cx="635.10" cy="437.21" r="2.55"/>
<circle cx="635.10" cy="436.48" r="2.55"/>
<circle cx="635.10" cy="435.56" r="2.55"/>
<circle cx="635.10" cy="434.87" r="2.55"/>
<circle cx="635.10" cy="434.03" r="2.55"/>
<circle cx="635.10" cy="433.26" r="2.55"/>
<circle cx="635.10" cy="432.42" r="2.55"/>
<circle cx="635.10" cy="431.91" r="2.55"/>
<circle cx="635.10" cy="431.51" r="2.55"/>
<circle cx="635.10" cy="430.70" r="2.55"/>
<circle cx="635.10" cy="430.12" r="2.55"/>
<circle cx="635.10" cy="429.64" r="2.55"/>
<circle cx="635.10" cy="429.09" r="2.55"/>
<circle cx="635.10" cy="428.40" r="2.55"/>
<circle cx="635.10" cy="427.74" r="2.55"/>
<circle cx="635.10" cy="426.17" r="2.55"/>
<circle cx="635.10" cy="425.40" r="2.55"/>
<circle cx="635.10" cy="424.93" r="2.55"/>
<circle cx="635.10" cy="424.45" r="2.55"/>
<circle cx="635.10" cy="423.68" r="2.55"/>
<circle cx="635.10" cy="423.17" r="2.55"/>
<circle cx="635.10" cy="422.62" r="2.55"/>
<circle cx="646.24" cy="326.07" r="2.55"/>
<circle cx="646.24" cy="347.64" r="2.55"/>
<circle cx="646.24" cy="394.43" r="2.55"/>
<circle cx="646.24" cy="403.94" r="2.55"/>
<circle cx="646.24" cy="406.50" r="2.55"/>
<circle cx="646.24" cy="413.08" r="2.55"/>
<circle cx="646.24" cy="414.91" r="2.55"/>
<circle cx="646.24" cy="418.56" r="2.55"/>
<circle cx="646.24" cy="420.03" r="2.55"/>
<circle cx="646.24" cy="437.21" r="2.55"/>
<circle cx="646.24" cy="436.70" r="2.55"/>
<circle cx="646.24" cy="435.13" r="2.55"/>
<circle cx="646.24" cy="434.21" r="2.55"/>
<circle cx="646.24" cy="433.44" r="2.55"/>
<circle cx="646.24" cy="432.42" r="2.55"/>
<circle cx="646.24" cy="431.94" r="2.55"/>
<circle cx="646.24" cy="431.18" r="2.55"/>
<circle cx="646.24" cy="430.23" r="2.55"/>
<circle cx="646.24" cy="429.82" r="2.55"/>
<circle cx="646.24" cy="429.13" r="2.55"/>
<circle cx="646.24" cy="428.22" r="2.55"/>
<circle cx="646.24" cy="427.81" r="2.55"/>
<circle cx="646.24" cy="426.86" r="2.55"/>
<circle cx="646.24" cy="426.02" r="2.55"/>
<circle cx="646.24" cy="425.14" r="2.55"/>
<circle cx="646.24" cy="424.52" r="2.55"/>
<circle cx="646.24" cy="423.94" r="2.55"/>
<circle cx="646.24" cy="423.10" r="2.55"/>
<circle cx="646.24" cy="422.18" r="2.55"/>
<circle cx="657.38" cy="362.99" r="2.55"/>
<circle cx="657.38" cy="371.04" r="2.55"/>
<circle cx="657.38" cy="377.98" r="2.55"/>
<circle cx="657.38" cy="383.10" r="2.55"/>
<circle cx="657.38" cy="388.22" r="2.55"/>
<circle cx="657.38" cy="396.99" r="2.55"/>
<circle cx="657.38" cy="398.64" r="2.55"/>
<circle cx="657.38" cy="400.28" r="2.55"/>
<circle cx="657.38" cy="402.84" r="2.55"/>
<circle cx="657.38" cy="405.40" r="2.55"/>
<circle cx="657.38" cy="407.96" r="2.55"/>
<circle cx="657.38" cy="410.52" r="2.55"/>
<circle cx="657.38" cy="413.08" r="2.55"/>
<circle cx="657.38" cy="413.26" r="2.55"/>
<circle cx="657.38" cy="416.74" r="2.55"/>
<circle cx="657.38" cy="420.03" r="2.55"/>
<circle cx="657.38" cy="423.50" r="2.55"/>
<circle cx="657.38" cy="426.24" r="2.55"/>
<circle cx="657.38" cy="428.80" r="2.55"/>
<circle cx="657.38" cy="431.36" r="2.55"/>
<circle cx="657.38" cy="431.54" r="2.55"/>
<circle cx="657.38" cy="433.92" r="2.55"/>
<circle cx="657.38" cy="435.38" r="2.55"/>
<circle cx="657.38" cy="436.84" r="2.55"/>
<circle cx="657.38" cy="432.82" r="2.55"/>
<circle cx="657.38" cy="429.90" r="2.55"/>
<circle cx="657.38" cy="421.85" r="2.55"/>
<circle cx="657.38" cy="418.56" r="2.55"/>
<circle cx="668.52" cy="286.58" r="2.55"/>
<circle cx="668.52" cy="339.78" r="2.55"/>
<circle cx="668.52" cy="364.09" r="2.55"/>
<circle cx="668.52" cy="368.29" r="2.55"/>
<circle cx="668.52" cy="368.66" r="2.55"/>
<circle cx="668.52" cy="378.90" r="2.55"/>
<circle cx="668.52" cy="381.46" r="2.55"/>
<circle cx="668.52" cy="384.01" r="2.55"/>
<circle cx="668.52" cy="385.66" r="2.55"/>
<circle cx="668.52" cy="393.34" r="2.55"/>
<circle cx="668.52" cy="395.90" r="2.55"/>
<circle cx="668.52" cy="398.64" r="2.55"/>
<circle cx="668.52" cy="401.20" r="2.55"/>
<circle cx="668.52" cy="409.79" r="2.55"/>
<circle cx="668.52" cy="411.62" r="2.55"/>
<circle cx="668.52" cy="413.08" r="2.55"/>
<circle cx="668.52" cy="415.64" r="2.55"/>
<circle cx="668.52" cy="418.56" r="2.55"/>
<circle cx="668.52" cy="420.03" r="2.55"/>
<circle cx="668.52" cy="422.59" r="2.55"/>
<circle cx="668.52" cy="425.14" r="2.55"/>
<circle cx="668.52" cy="427.70" r="2.55"/>
<circle cx="668.52" cy="430.26" r="2.55"/>
<circle cx="668.52" cy="432.09" r="2.55"/>
<circle cx="668.52" cy="433.92" r="2.55"/>
<circle cx="668.52" cy="435.38" r="2.55"/>
<circle cx="668.52" cy="436.84" r="2.55"/>
<circle cx="668.52" cy="431.18" r="2.55"/>
<circle cx="668.52" cy="428.80" r="2.55"/>
<circle cx="668.52" cy="424.05" r="2.55"/>
<circle cx="679.66" cy="316.56" r="2.55"/>
<circle cx="679.66" cy="347.09" r="2.55"/>
<circle cx="679.66" cy="357.14" r="2.55"/>
<circle cx="679.66" cy="364.46" r="2.55"/>
<circle cx="679.66" cy="366.47" r="2.55"/>
<circle cx="679.66" cy="368.48" r="2.55"/>
<circle cx="679.66" cy="370.67" r="2.55"/>
<circle cx="679.66" cy="387.49" r="2.55"/>
<circle cx="679.66" cy="388.22" r="2.55"/>
<circle cx="679.66" cy="401.20" r="2.55"/>
<circle cx="679.66" cy="404.85" r="2.55"/>
<circle cx="679.66" cy="408.33" r="2.55"/>
<circle cx="679.66" cy="411.25" r="2.55"/>
<circle cx="679.66" cy="414.54" r="2.55"/>
<circle cx="679.66" cy="417.47" r="2.55"/>
<circle cx="679.66" cy="420.57" r="2.55"/>
<circle cx="679.66" cy="422.59" r="2.55"/>
<circle cx="679.66" cy="424.78" r="2.55"/>
<circle cx="679.66" cy="427.34" r="2.55"/>
<circle cx="679.66" cy="429.90" r="2.55"/>
<circle cx="679.66" cy="431.73" r="2.55"/>
<circle cx="679.66" cy="433.92" r="2.55"/>
<circle cx="679.66" cy="435.93" r="2.55"/>
<circle cx="679.66" cy="437.21" r="2.55"/>
<circle cx="679.66" cy="436.44" r="2.55"/>
<circle cx="679.66" cy="435.42" r="2.55"/>
<circle cx="679.66" cy="433.99" r="2.55"/>
<circle cx="679.66" cy="432.49" r="2.55"/>
<circle cx="679.66" cy="431.62" r="2.55"/>
<circle cx="679.66" cy="430.41" r="2.55"/>
<circle cx="679.66" cy="429.02" r="2.55"/>
<circle cx="679.66" cy="427.85" r="2.55"/>
<circle cx="679.66" cy="426.35" r="2.55"/>
<circle cx="679.66" cy="425.51" r="2.55"/>
<circle cx="679.66" cy="424.19" r="2.55"/>
<circle cx="679.66" cy="422.77" r="2.55"/>
<circle cx="679.66" cy="421.31" r="2.55"/>
<circle cx="679.66" cy="420.28" r="2.55"/>
<circle cx="679.66" cy="419.11" r="2.55"/>
<circle cx="679.66" cy="418.45" r="2.55"/>
<circle cx="679.66" cy="417.10" r="2.55"/>
<circle cx="679.66" cy="415.90" r="2.55"/>
<circle cx="679.66" cy="415.24" r="2.55"/>
</g>
<text x="328.5" y="98.9" font-size="10.2" fill="#000" stroke="#000" stroke-width="0.24">K<tspan dy="4.9" dx="0.3" font-size="7.4">p</tspan><tspan dy="-4.9" dx="0.2">&lt;=3</tspan></text>
<text x="333.3" y="353.9" font-size="10.2" fill="#000" stroke="#000" stroke-width="0.24">K<tspan dy="4.9" dx="0.3" font-size="7.4">p</tspan><tspan dy="-4.9" dx="0.2">&gt;3</tspan></text>
</g>
</svg>
</body></html>
